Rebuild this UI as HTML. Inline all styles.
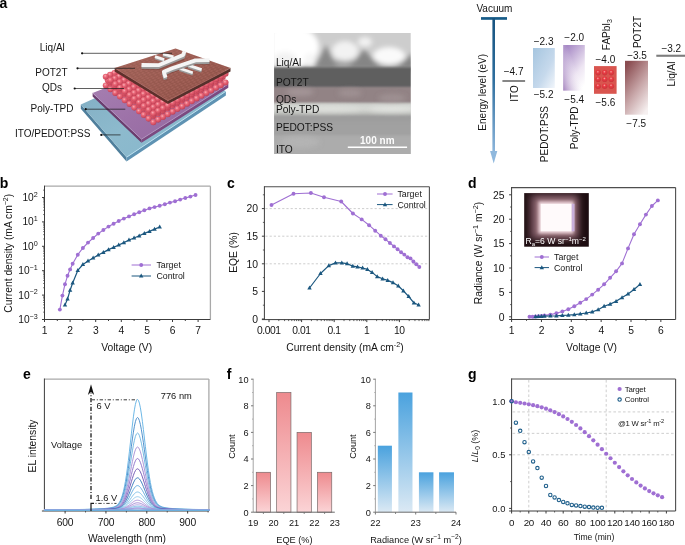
<!DOCTYPE html><html><head><meta charset="utf-8"><style>html,body{margin:0;padding:0;background:#fff;}svg{display:block;will-change:transform;}text{font-family:"Liberation Sans", sans-serif;}</style></head><body>
<svg width="685" height="545" viewBox="0 0 685 545">
<rect width="685" height="545" fill="#fff"/>
<text x="-0.50" y="8.00" font-size="14" text-anchor="start" font-weight="bold" fill="#000" >a</text>
<text x="-0.20" y="187.60" font-size="14" text-anchor="start" font-weight="bold" fill="#000" >b</text>
<text x="227.00" y="187.80" font-size="14" text-anchor="start" font-weight="bold" fill="#000" >c</text>
<text x="468.00" y="188.20" font-size="14" text-anchor="start" font-weight="bold" fill="#000" >d</text>
<text x="23.00" y="379.00" font-size="14" text-anchor="start" font-weight="bold" fill="#000" >e</text>
<text x="226.80" y="378.60" font-size="14" text-anchor="start" font-weight="bold" fill="#000" >f</text>
<text x="468.10" y="379.00" font-size="14" text-anchor="start" font-weight="bold" fill="#000" >g</text>
<text x="64.80" y="51.40" font-size="10" text-anchor="end" font-weight="normal" fill="#151515" >Liq/Al</text>
<text x="67.50" y="75.80" font-size="10" text-anchor="end" font-weight="normal" fill="#151515" >POT2T</text>
<text x="62.00" y="91.40" font-size="10" text-anchor="end" font-weight="normal" fill="#151515" >QDs</text>
<text x="73.40" y="111.60" font-size="10" text-anchor="end" font-weight="normal" fill="#151515" >Poly-TPD</text>
<text x="90.40" y="136.90" font-size="10" text-anchor="end" font-weight="normal" fill="#151515" >ITO/PEDOT:PSS</text>
<defs>
<linearGradient id="bluetop" x1="0" y1="0" x2="1" y2="1"><stop offset="0" stop-color="#7eaac0"/><stop offset="0.5" stop-color="#8dbacd"/><stop offset="1" stop-color="#84b6cc"/></linearGradient>
<linearGradient id="purtop" x1="0" y1="0" x2="1" y2="1"><stop offset="0" stop-color="#a984b4"/><stop offset="0.5" stop-color="#9d72a8"/><stop offset="1" stop-color="#92669e"/></linearGradient>
<linearGradient id="browntop" x1="0" y1="0" x2="1" y2="1"><stop offset="0" stop-color="#a0645a"/><stop offset="0.6" stop-color="#94564c"/><stop offset="1" stop-color="#874c43"/></linearGradient>
<radialGradient id="qd" cx="0.4" cy="0.35" r="0.68"><stop offset="0" stop-color="#f9b0b8"/><stop offset="0.35" stop-color="#ea6a7a"/><stop offset="0.8" stop-color="#d04a5e"/><stop offset="1" stop-color="#b53c50"/></radialGradient>
</defs>
<polygon points="80.80,104.60 126.50,157.30 126.50,161.50 80.80,108.80" fill="#4f7f9c" />
<polygon points="126.50,157.30 225.90,91.30 225.90,95.50 126.50,161.50" fill="#5f93b3" />
<polygon points="80.80,104.60 126.50,157.30 225.90,91.30 175.00,62.00" fill="url(#bluetop)" />
<polyline points="126.5,157.3 225.9,91.3" stroke="#c2e6f4" stroke-width="0.8" fill="none"/>
<polygon points="92.60,93.00 141.50,139.20 141.50,142.80 92.60,96.60" fill="#6b3d6e" />
<polygon points="141.50,139.20 228.30,84.10 228.30,87.70 141.50,142.80" fill="#7b4a80" />
<polygon points="92.60,93.00 141.50,139.20 228.30,84.10 176.00,60.00" fill="url(#purtop)" />
<polyline points="92.6,93.0 141.5,139.2 228.3,84.1" stroke="#c6a2cc" stroke-width="0.6" fill="none"/>
<circle cx="208.8" cy="75.1" r="3.05" fill="url(#qd)"/>
<circle cx="206.1" cy="69.5" r="3.05" fill="url(#qd)"/>
<circle cx="208.8" cy="66.3" r="3.05" fill="url(#qd)"/>
<circle cx="204.2" cy="77.6" r="3.05" fill="url(#qd)"/>
<circle cx="214.4" cy="77.6" r="3.05" fill="url(#qd)"/>
<circle cx="203.8" cy="70.7" r="3.05" fill="url(#qd)"/>
<circle cx="211.6" cy="72.0" r="3.05" fill="url(#qd)"/>
<circle cx="204.2" cy="68.8" r="3.05" fill="url(#qd)"/>
<circle cx="214.4" cy="68.8" r="3.05" fill="url(#qd)"/>
<circle cx="199.5" cy="80.0" r="3.05" fill="url(#qd)"/>
<circle cx="209.7" cy="80.1" r="3.05" fill="url(#qd)"/>
<circle cx="220.0" cy="80.0" r="3.05" fill="url(#qd)"/>
<circle cx="199.1" cy="73.1" r="3.05" fill="url(#qd)"/>
<circle cx="209.3" cy="73.2" r="3.05" fill="url(#qd)"/>
<circle cx="217.2" cy="74.4" r="3.05" fill="url(#qd)"/>
<circle cx="199.5" cy="71.2" r="3.05" fill="url(#qd)"/>
<circle cx="209.7" cy="71.3" r="3.05" fill="url(#qd)"/>
<circle cx="220.0" cy="71.2" r="3.05" fill="url(#qd)"/>
<circle cx="194.9" cy="82.4" r="3.05" fill="url(#qd)"/>
<circle cx="205.0" cy="82.6" r="3.05" fill="url(#qd)"/>
<circle cx="215.2" cy="82.6" r="3.05" fill="url(#qd)"/>
<circle cx="225.5" cy="82.5" r="3.05" fill="url(#qd)"/>
<circle cx="194.5" cy="75.4" r="3.05" fill="url(#qd)"/>
<circle cx="204.6" cy="75.6" r="3.05" fill="url(#qd)"/>
<circle cx="214.8" cy="75.7" r="3.05" fill="url(#qd)"/>
<circle cx="222.7" cy="76.9" r="3.05" fill="url(#qd)"/>
<circle cx="194.9" cy="73.6" r="3.05" fill="url(#qd)"/>
<circle cx="205.0" cy="73.8" r="3.05" fill="url(#qd)"/>
<circle cx="215.2" cy="73.8" r="3.05" fill="url(#qd)"/>
<circle cx="225.5" cy="73.7" r="3.05" fill="url(#qd)"/>
<circle cx="190.2" cy="84.8" r="3.05" fill="url(#qd)"/>
<circle cx="200.3" cy="85.1" r="3.05" fill="url(#qd)"/>
<circle cx="210.4" cy="85.2" r="3.05" fill="url(#qd)"/>
<circle cx="220.7" cy="85.2" r="3.05" fill="url(#qd)"/>
<circle cx="189.9" cy="77.8" r="3.05" fill="url(#qd)"/>
<circle cx="199.9" cy="78.1" r="3.05" fill="url(#qd)"/>
<circle cx="210.1" cy="78.2" r="3.05" fill="url(#qd)"/>
<circle cx="220.3" cy="78.2" r="3.05" fill="url(#qd)"/>
<circle cx="190.2" cy="76.0" r="3.05" fill="url(#qd)"/>
<circle cx="200.3" cy="76.3" r="3.05" fill="url(#qd)"/>
<circle cx="210.4" cy="76.4" r="3.05" fill="url(#qd)"/>
<circle cx="220.7" cy="76.4" r="3.05" fill="url(#qd)"/>
<circle cx="118.6" cy="80.0" r="3.05" fill="url(#qd)"/>
<circle cx="185.6" cy="87.2" r="3.05" fill="url(#qd)"/>
<circle cx="195.6" cy="87.6" r="3.05" fill="url(#qd)"/>
<circle cx="205.7" cy="87.8" r="3.05" fill="url(#qd)"/>
<circle cx="215.9" cy="87.8" r="3.05" fill="url(#qd)"/>
<circle cx="120.8" cy="74.7" r="3.05" fill="url(#qd)"/>
<circle cx="185.3" cy="80.2" r="3.05" fill="url(#qd)"/>
<circle cx="195.2" cy="80.5" r="3.05" fill="url(#qd)"/>
<circle cx="205.3" cy="80.8" r="3.05" fill="url(#qd)"/>
<circle cx="215.5" cy="80.8" r="3.05" fill="url(#qd)"/>
<circle cx="118.6" cy="71.2" r="3.05" fill="url(#qd)"/>
<circle cx="185.6" cy="78.4" r="3.05" fill="url(#qd)"/>
<circle cx="195.6" cy="78.8" r="3.05" fill="url(#qd)"/>
<circle cx="205.7" cy="79.0" r="3.05" fill="url(#qd)"/>
<circle cx="215.9" cy="79.0" r="3.05" fill="url(#qd)"/>
<circle cx="114.4" cy="81.8" r="3.05" fill="url(#qd)"/>
<circle cx="123.6" cy="83.4" r="3.05" fill="url(#qd)"/>
<circle cx="180.9" cy="89.6" r="3.05" fill="url(#qd)"/>
<circle cx="190.9" cy="90.0" r="3.05" fill="url(#qd)"/>
<circle cx="200.9" cy="90.3" r="3.05" fill="url(#qd)"/>
<circle cx="211.1" cy="90.5" r="3.05" fill="url(#qd)"/>
<circle cx="116.5" cy="76.5" r="3.05" fill="url(#qd)"/>
<circle cx="123.2" cy="76.4" r="3.05" fill="url(#qd)"/>
<circle cx="180.6" cy="82.5" r="3.05" fill="url(#qd)"/>
<circle cx="190.6" cy="83.0" r="3.05" fill="url(#qd)"/>
<circle cx="200.6" cy="83.3" r="3.05" fill="url(#qd)"/>
<circle cx="210.8" cy="83.4" r="3.05" fill="url(#qd)"/>
<circle cx="114.4" cy="73.0" r="3.05" fill="url(#qd)"/>
<circle cx="123.6" cy="74.6" r="3.05" fill="url(#qd)"/>
<circle cx="180.9" cy="80.8" r="3.05" fill="url(#qd)"/>
<circle cx="190.9" cy="81.2" r="3.05" fill="url(#qd)"/>
<circle cx="200.9" cy="81.5" r="3.05" fill="url(#qd)"/>
<circle cx="211.1" cy="81.7" r="3.05" fill="url(#qd)"/>
<circle cx="110.1" cy="83.7" r="3.05" fill="url(#qd)"/>
<circle cx="119.2" cy="85.3" r="3.05" fill="url(#qd)"/>
<circle cx="128.5" cy="86.9" r="3.05" fill="url(#qd)"/>
<circle cx="176.3" cy="92.0" r="3.05" fill="url(#qd)"/>
<circle cx="186.2" cy="92.5" r="3.05" fill="url(#qd)"/>
<circle cx="196.2" cy="92.9" r="3.05" fill="url(#qd)"/>
<circle cx="206.2" cy="93.1" r="3.05" fill="url(#qd)"/>
<circle cx="112.2" cy="78.3" r="3.05" fill="url(#qd)"/>
<circle cx="118.9" cy="78.3" r="3.05" fill="url(#qd)"/>
<circle cx="128.2" cy="79.8" r="3.05" fill="url(#qd)"/>
<circle cx="176.0" cy="84.9" r="3.05" fill="url(#qd)"/>
<circle cx="185.9" cy="85.4" r="3.05" fill="url(#qd)"/>
<circle cx="195.9" cy="85.8" r="3.05" fill="url(#qd)"/>
<circle cx="206.0" cy="86.0" r="3.05" fill="url(#qd)"/>
<circle cx="110.1" cy="74.9" r="3.05" fill="url(#qd)"/>
<circle cx="119.2" cy="76.5" r="3.05" fill="url(#qd)"/>
<circle cx="128.5" cy="78.1" r="3.05" fill="url(#qd)"/>
<circle cx="176.3" cy="83.2" r="3.05" fill="url(#qd)"/>
<circle cx="186.2" cy="83.7" r="3.05" fill="url(#qd)"/>
<circle cx="196.2" cy="84.1" r="3.05" fill="url(#qd)"/>
<circle cx="206.2" cy="84.3" r="3.05" fill="url(#qd)"/>
<circle cx="105.8" cy="85.5" r="3.05" fill="url(#qd)"/>
<circle cx="114.9" cy="87.3" r="3.05" fill="url(#qd)"/>
<circle cx="124.1" cy="88.9" r="3.05" fill="url(#qd)"/>
<circle cx="133.4" cy="90.3" r="3.05" fill="url(#qd)"/>
<circle cx="171.6" cy="94.4" r="3.05" fill="url(#qd)"/>
<circle cx="181.5" cy="95.0" r="3.05" fill="url(#qd)"/>
<circle cx="191.4" cy="95.5" r="3.05" fill="url(#qd)"/>
<circle cx="201.4" cy="95.8" r="3.05" fill="url(#qd)"/>
<circle cx="107.9" cy="80.2" r="3.05" fill="url(#qd)"/>
<circle cx="114.6" cy="80.1" r="3.05" fill="url(#qd)"/>
<circle cx="123.8" cy="81.7" r="3.05" fill="url(#qd)"/>
<circle cx="133.1" cy="83.2" r="3.05" fill="url(#qd)"/>
<circle cx="171.4" cy="87.3" r="3.05" fill="url(#qd)"/>
<circle cx="181.2" cy="87.9" r="3.05" fill="url(#qd)"/>
<circle cx="191.1" cy="88.3" r="3.05" fill="url(#qd)"/>
<circle cx="201.2" cy="88.6" r="3.05" fill="url(#qd)"/>
<circle cx="105.8" cy="76.7" r="3.05" fill="url(#qd)"/>
<circle cx="114.9" cy="78.5" r="3.05" fill="url(#qd)"/>
<circle cx="124.1" cy="80.1" r="3.05" fill="url(#qd)"/>
<circle cx="133.4" cy="81.5" r="3.05" fill="url(#qd)"/>
<circle cx="171.6" cy="85.6" r="3.05" fill="url(#qd)"/>
<circle cx="181.5" cy="86.2" r="3.05" fill="url(#qd)"/>
<circle cx="191.4" cy="86.7" r="3.05" fill="url(#qd)"/>
<circle cx="201.4" cy="87.0" r="3.05" fill="url(#qd)"/>
<circle cx="110.5" cy="89.2" r="3.05" fill="url(#qd)"/>
<circle cx="119.7" cy="90.9" r="3.05" fill="url(#qd)"/>
<circle cx="128.9" cy="92.4" r="3.05" fill="url(#qd)"/>
<circle cx="138.3" cy="93.7" r="3.05" fill="url(#qd)"/>
<circle cx="167.0" cy="96.8" r="3.05" fill="url(#qd)"/>
<circle cx="176.7" cy="97.5" r="3.05" fill="url(#qd)"/>
<circle cx="186.6" cy="98.0" r="3.05" fill="url(#qd)"/>
<circle cx="196.6" cy="98.4" r="3.05" fill="url(#qd)"/>
<circle cx="110.3" cy="82.0" r="3.05" fill="url(#qd)"/>
<circle cx="119.5" cy="83.7" r="3.05" fill="url(#qd)"/>
<circle cx="128.7" cy="85.2" r="3.05" fill="url(#qd)"/>
<circle cx="138.1" cy="86.6" r="3.05" fill="url(#qd)"/>
<circle cx="166.7" cy="89.6" r="3.05" fill="url(#qd)"/>
<circle cx="176.5" cy="90.3" r="3.05" fill="url(#qd)"/>
<circle cx="186.4" cy="90.9" r="3.05" fill="url(#qd)"/>
<circle cx="196.4" cy="91.2" r="3.05" fill="url(#qd)"/>
<circle cx="110.5" cy="80.4" r="3.05" fill="url(#qd)"/>
<circle cx="119.7" cy="82.1" r="3.05" fill="url(#qd)"/>
<circle cx="128.9" cy="83.6" r="3.05" fill="url(#qd)"/>
<circle cx="138.3" cy="84.9" r="3.05" fill="url(#qd)"/>
<circle cx="167.0" cy="88.0" r="3.05" fill="url(#qd)"/>
<circle cx="176.7" cy="88.7" r="3.05" fill="url(#qd)"/>
<circle cx="186.6" cy="89.2" r="3.05" fill="url(#qd)"/>
<circle cx="196.6" cy="89.6" r="3.05" fill="url(#qd)"/>
<circle cx="115.3" cy="92.9" r="3.05" fill="url(#qd)"/>
<circle cx="124.5" cy="94.5" r="3.05" fill="url(#qd)"/>
<circle cx="133.8" cy="95.9" r="3.05" fill="url(#qd)"/>
<circle cx="143.2" cy="97.2" r="3.05" fill="url(#qd)"/>
<circle cx="162.3" cy="99.2" r="3.05" fill="url(#qd)"/>
<circle cx="172.0" cy="100.0" r="3.05" fill="url(#qd)"/>
<circle cx="181.9" cy="100.6" r="3.05" fill="url(#qd)"/>
<circle cx="191.8" cy="101.1" r="3.05" fill="url(#qd)"/>
<circle cx="115.1" cy="85.6" r="3.05" fill="url(#qd)"/>
<circle cx="124.3" cy="87.2" r="3.05" fill="url(#qd)"/>
<circle cx="133.6" cy="88.7" r="3.05" fill="url(#qd)"/>
<circle cx="143.0" cy="90.0" r="3.05" fill="url(#qd)"/>
<circle cx="162.1" cy="92.0" r="3.05" fill="url(#qd)"/>
<circle cx="171.8" cy="92.8" r="3.05" fill="url(#qd)"/>
<circle cx="181.7" cy="93.4" r="3.05" fill="url(#qd)"/>
<circle cx="191.6" cy="93.9" r="3.05" fill="url(#qd)"/>
<circle cx="115.3" cy="84.1" r="3.05" fill="url(#qd)"/>
<circle cx="124.5" cy="85.7" r="3.05" fill="url(#qd)"/>
<circle cx="133.8" cy="87.1" r="3.05" fill="url(#qd)"/>
<circle cx="143.2" cy="88.4" r="3.05" fill="url(#qd)"/>
<circle cx="162.3" cy="90.4" r="3.05" fill="url(#qd)"/>
<circle cx="172.0" cy="91.2" r="3.05" fill="url(#qd)"/>
<circle cx="181.9" cy="91.8" r="3.05" fill="url(#qd)"/>
<circle cx="191.8" cy="92.3" r="3.05" fill="url(#qd)"/>
<circle cx="120.0" cy="96.5" r="3.05" fill="url(#qd)"/>
<circle cx="129.3" cy="98.1" r="3.05" fill="url(#qd)"/>
<circle cx="138.6" cy="99.4" r="3.05" fill="url(#qd)"/>
<circle cx="148.1" cy="100.6" r="3.05" fill="url(#qd)"/>
<circle cx="157.7" cy="101.6" r="3.05" fill="url(#qd)"/>
<circle cx="167.3" cy="102.5" r="3.05" fill="url(#qd)"/>
<circle cx="177.1" cy="103.2" r="3.05" fill="url(#qd)"/>
<circle cx="187.0" cy="103.7" r="3.05" fill="url(#qd)"/>
<circle cx="119.9" cy="89.3" r="3.05" fill="url(#qd)"/>
<circle cx="129.1" cy="90.8" r="3.05" fill="url(#qd)"/>
<circle cx="138.5" cy="92.2" r="3.05" fill="url(#qd)"/>
<circle cx="147.9" cy="93.3" r="3.05" fill="url(#qd)"/>
<circle cx="157.5" cy="94.4" r="3.05" fill="url(#qd)"/>
<circle cx="167.2" cy="95.2" r="3.05" fill="url(#qd)"/>
<circle cx="176.9" cy="95.9" r="3.05" fill="url(#qd)"/>
<circle cx="186.8" cy="96.5" r="3.05" fill="url(#qd)"/>
<circle cx="120.0" cy="87.7" r="3.05" fill="url(#qd)"/>
<circle cx="129.3" cy="89.3" r="3.05" fill="url(#qd)"/>
<circle cx="138.6" cy="90.6" r="3.05" fill="url(#qd)"/>
<circle cx="148.1" cy="91.8" r="3.05" fill="url(#qd)"/>
<circle cx="157.7" cy="92.8" r="3.05" fill="url(#qd)"/>
<circle cx="167.3" cy="93.7" r="3.05" fill="url(#qd)"/>
<circle cx="177.1" cy="94.4" r="3.05" fill="url(#qd)"/>
<circle cx="187.0" cy="94.9" r="3.05" fill="url(#qd)"/>
<circle cx="124.8" cy="100.2" r="3.05" fill="url(#qd)"/>
<circle cx="134.1" cy="101.7" r="3.05" fill="url(#qd)"/>
<circle cx="143.5" cy="102.9" r="3.05" fill="url(#qd)"/>
<circle cx="153.0" cy="104.0" r="3.05" fill="url(#qd)"/>
<circle cx="162.6" cy="105.0" r="3.05" fill="url(#qd)"/>
<circle cx="172.3" cy="105.8" r="3.05" fill="url(#qd)"/>
<circle cx="182.2" cy="106.4" r="3.05" fill="url(#qd)"/>
<circle cx="124.7" cy="92.9" r="3.05" fill="url(#qd)"/>
<circle cx="134.0" cy="94.4" r="3.05" fill="url(#qd)"/>
<circle cx="143.4" cy="95.6" r="3.05" fill="url(#qd)"/>
<circle cx="152.9" cy="96.7" r="3.05" fill="url(#qd)"/>
<circle cx="162.5" cy="97.7" r="3.05" fill="url(#qd)"/>
<circle cx="172.2" cy="98.5" r="3.05" fill="url(#qd)"/>
<circle cx="182.0" cy="99.1" r="3.05" fill="url(#qd)"/>
<circle cx="124.8" cy="91.4" r="3.05" fill="url(#qd)"/>
<circle cx="134.1" cy="92.9" r="3.05" fill="url(#qd)"/>
<circle cx="143.5" cy="94.1" r="3.05" fill="url(#qd)"/>
<circle cx="153.0" cy="95.2" r="3.05" fill="url(#qd)"/>
<circle cx="162.6" cy="96.2" r="3.05" fill="url(#qd)"/>
<circle cx="172.3" cy="97.0" r="3.05" fill="url(#qd)"/>
<circle cx="182.2" cy="97.6" r="3.05" fill="url(#qd)"/>
<circle cx="129.6" cy="103.9" r="3.05" fill="url(#qd)"/>
<circle cx="138.9" cy="105.3" r="3.05" fill="url(#qd)"/>
<circle cx="148.4" cy="106.4" r="3.05" fill="url(#qd)"/>
<circle cx="157.9" cy="107.5" r="3.05" fill="url(#qd)"/>
<circle cx="167.6" cy="108.3" r="3.05" fill="url(#qd)"/>
<circle cx="177.4" cy="109.0" r="3.05" fill="url(#qd)"/>
<circle cx="129.4" cy="96.6" r="3.05" fill="url(#qd)"/>
<circle cx="138.8" cy="97.9" r="3.05" fill="url(#qd)"/>
<circle cx="148.2" cy="99.1" r="3.05" fill="url(#qd)"/>
<circle cx="157.8" cy="100.1" r="3.05" fill="url(#qd)"/>
<circle cx="167.5" cy="101.0" r="3.05" fill="url(#qd)"/>
<circle cx="177.3" cy="101.7" r="3.05" fill="url(#qd)"/>
<circle cx="129.6" cy="95.1" r="3.05" fill="url(#qd)"/>
<circle cx="138.9" cy="96.5" r="3.05" fill="url(#qd)"/>
<circle cx="148.4" cy="97.6" r="3.05" fill="url(#qd)"/>
<circle cx="157.9" cy="98.7" r="3.05" fill="url(#qd)"/>
<circle cx="167.6" cy="99.5" r="3.05" fill="url(#qd)"/>
<circle cx="177.4" cy="100.2" r="3.05" fill="url(#qd)"/>
<circle cx="134.3" cy="107.6" r="3.05" fill="url(#qd)"/>
<circle cx="143.7" cy="108.9" r="3.05" fill="url(#qd)"/>
<circle cx="153.2" cy="110.0" r="3.05" fill="url(#qd)"/>
<circle cx="162.8" cy="110.9" r="3.05" fill="url(#qd)"/>
<circle cx="172.6" cy="111.7" r="3.05" fill="url(#qd)"/>
<circle cx="134.2" cy="100.2" r="3.05" fill="url(#qd)"/>
<circle cx="143.6" cy="101.5" r="3.05" fill="url(#qd)"/>
<circle cx="153.1" cy="102.6" r="3.05" fill="url(#qd)"/>
<circle cx="162.7" cy="103.5" r="3.05" fill="url(#qd)"/>
<circle cx="172.5" cy="104.3" r="3.05" fill="url(#qd)"/>
<circle cx="134.3" cy="98.8" r="3.05" fill="url(#qd)"/>
<circle cx="143.7" cy="100.1" r="3.05" fill="url(#qd)"/>
<circle cx="153.2" cy="101.2" r="3.05" fill="url(#qd)"/>
<circle cx="162.8" cy="102.1" r="3.05" fill="url(#qd)"/>
<circle cx="172.6" cy="102.9" r="3.05" fill="url(#qd)"/>
<circle cx="139.1" cy="111.3" r="3.05" fill="url(#qd)"/>
<circle cx="148.5" cy="112.5" r="3.05" fill="url(#qd)"/>
<circle cx="158.1" cy="113.5" r="3.05" fill="url(#qd)"/>
<circle cx="167.7" cy="114.3" r="3.05" fill="url(#qd)"/>
<circle cx="139.0" cy="103.8" r="3.05" fill="url(#qd)"/>
<circle cx="148.4" cy="105.0" r="3.05" fill="url(#qd)"/>
<circle cx="158.0" cy="106.1" r="3.05" fill="url(#qd)"/>
<circle cx="167.7" cy="106.9" r="3.05" fill="url(#qd)"/>
<circle cx="139.1" cy="102.5" r="3.05" fill="url(#qd)"/>
<circle cx="148.5" cy="103.7" r="3.05" fill="url(#qd)"/>
<circle cx="158.1" cy="104.7" r="3.05" fill="url(#qd)"/>
<circle cx="167.7" cy="105.5" r="3.05" fill="url(#qd)"/>
<circle cx="143.8" cy="114.9" r="3.05" fill="url(#qd)"/>
<circle cx="153.3" cy="116.0" r="3.05" fill="url(#qd)"/>
<circle cx="162.9" cy="117.0" r="3.05" fill="url(#qd)"/>
<circle cx="143.8" cy="107.5" r="3.05" fill="url(#qd)"/>
<circle cx="153.3" cy="108.6" r="3.05" fill="url(#qd)"/>
<circle cx="162.9" cy="109.5" r="3.05" fill="url(#qd)"/>
<circle cx="143.8" cy="106.1" r="3.05" fill="url(#qd)"/>
<circle cx="153.3" cy="107.2" r="3.05" fill="url(#qd)"/>
<circle cx="162.9" cy="108.2" r="3.05" fill="url(#qd)"/>
<circle cx="148.6" cy="118.6" r="3.05" fill="url(#qd)"/>
<circle cx="158.1" cy="119.6" r="3.05" fill="url(#qd)"/>
<circle cx="148.5" cy="111.1" r="3.05" fill="url(#qd)"/>
<circle cx="158.1" cy="112.1" r="3.05" fill="url(#qd)"/>
<circle cx="148.6" cy="109.8" r="3.05" fill="url(#qd)"/>
<circle cx="158.1" cy="110.8" r="3.05" fill="url(#qd)"/>
<circle cx="153.3" cy="122.3" r="3.05" fill="url(#qd)"/>
<circle cx="153.3" cy="114.8" r="3.05" fill="url(#qd)"/>
<circle cx="153.3" cy="113.5" r="3.05" fill="url(#qd)"/>
<polygon points="114.70,68.10 167.90,100.70 167.90,104.00 114.70,71.40" fill="#5e302b" />
<polygon points="167.90,100.70 230.50,68.10 230.50,71.40 167.90,104.00" fill="#55302b" />
<polygon points="114.70,68.10 167.90,100.70 230.50,68.10 175.50,48.50" fill="url(#browntop)" />
<defs><radialGradient id="bdg"><stop offset="0" stop-color="#c27a72" stop-opacity="0.42"/><stop offset="1" stop-color="#c27a72" stop-opacity="0"/></radialGradient><pattern id="bdots" width="5.4" height="3.6" patternUnits="userSpaceOnUse" patternTransform="skewX(-30)"><circle cx="1.35" cy="0.9" r="1.9" fill="url(#bdg)"/><circle cx="4.05" cy="2.7" r="1.9" fill="url(#bdg)"/></pattern></defs>
<polygon points="114.70,68.10 167.90,100.70 230.50,68.10 175.50,48.50" fill="url(#bdots)" />
<polyline points="114.7,68.1 167.9,100.7 230.5,68.1" stroke="#b07a70" stroke-width="0.5" fill="none"/>
<g opacity="0.3">
<polyline points="142,68.5 159,68.7 184,58.5" stroke="#5a2a26" stroke-width="3" fill="none"/>
<polyline points="166,80.5 165,74 173,71 196,63.5 210,63.3" stroke="#5a2a26" stroke-width="3" fill="none"/>
</g>
<polyline points="155.0,58.0 164.2,61.0" stroke="#9b9b9b" stroke-width="2.8" fill="none" stroke-linejoin="round" stroke-linecap="butt"/>
<polyline points="155.0,56.6 164.2,59.6" stroke="#f4f4f4" stroke-width="2.8" fill="none" stroke-linejoin="round" stroke-linecap="butt"/>
<polyline points="163.0,55.4 173.5,58.3" stroke="#9b9b9b" stroke-width="2.8" fill="none" stroke-linejoin="round" stroke-linecap="butt"/>
<polyline points="163.0,54.0 173.5,56.9" stroke="#f4f4f4" stroke-width="2.8" fill="none" stroke-linejoin="round" stroke-linecap="butt"/>
<polyline points="141.5,66.9 158.5,67.1 183.0,56.9 184.6,53.1" stroke="#9b9b9b" stroke-width="3.8" fill="none" stroke-linejoin="round" stroke-linecap="butt"/>
<polyline points="141.5,65.0 158.5,65.2 183.0,55.0 184.6,51.2" stroke="#f4f4f4" stroke-width="3.8" fill="none" stroke-linejoin="round" stroke-linecap="butt"/>
<polyline points="179.5,69.7 192.8,74.3" stroke="#9b9b9b" stroke-width="2.8" fill="none" stroke-linejoin="round" stroke-linecap="butt"/>
<polyline points="179.5,68.2 192.8,72.8" stroke="#f4f4f4" stroke-width="2.8" fill="none" stroke-linejoin="round" stroke-linecap="butt"/>
<polyline points="188.1,66.6 201.6,71.1" stroke="#9b9b9b" stroke-width="2.8" fill="none" stroke-linejoin="round" stroke-linecap="butt"/>
<polyline points="188.1,65.1 201.6,69.6" stroke="#f4f4f4" stroke-width="2.8" fill="none" stroke-linejoin="round" stroke-linecap="butt"/>
<polyline points="165.6,79.5 163.8,73.7 172.0,70.1 195.5,62.3 209.5,62.1" stroke="#9b9b9b" stroke-width="3.8" fill="none" stroke-linejoin="round" stroke-linecap="butt"/>
<polyline points="165.6,77.6 163.8,71.8 172.0,68.2 195.5,60.4 209.5,60.2" stroke="#f4f4f4" stroke-width="3.8" fill="none" stroke-linejoin="round" stroke-linecap="butt"/>
<line x1="82.10" y1="53.30" x2="172.00" y2="53.30" stroke="#1a1a1a" stroke-width="0.7" />
<circle cx="82.1" cy="53.3" r="1.1" fill="#111"/>
<line x1="77.50" y1="68.30" x2="135.00" y2="68.30" stroke="#1a1a1a" stroke-width="0.7" />
<circle cx="77.5" cy="68.3" r="1.1" fill="#111"/>
<line x1="74.70" y1="88.50" x2="124.00" y2="88.50" stroke="#1a1a1a" stroke-width="0.7" />
<circle cx="74.7" cy="88.5" r="1.1" fill="#111"/>
<line x1="85.70" y1="109.20" x2="125.30" y2="109.20" stroke="#1a1a1a" stroke-width="0.7" />
<circle cx="85.7" cy="109.2" r="1.1" fill="#111"/>
<line x1="101.30" y1="134.90" x2="120.50" y2="134.90" stroke="#1a1a1a" stroke-width="0.7" />
<circle cx="101.3" cy="134.9" r="1.1" fill="#111"/>
<defs>
<filter id="tb3" x="-30%" y="-30%" width="160%" height="160%"><feGaussianBlur stdDeviation="2.7"/></filter>
<filter id="tb1" x="-10%" y="-30%" width="120%" height="160%"><feGaussianBlur stdDeviation="0.9"/></filter>
<clipPath id="temclip"><rect x="274.1" y="33" width="136.6" height="120.9"/></clipPath>
<linearGradient id="tpd" x1="0" y1="0" x2="0" y2="1"><stop offset="0" stop-color="#cbcdc9"/><stop offset="0.45" stop-color="#d8dad6"/><stop offset="1" stop-color="#bbbdb9"/></linearGradient>
</defs>
<g clip-path="url(#temclip)">
<rect x="274" y="33" width="137" height="121" fill="#cdcdcd"/>
<g filter="url(#tb3)">
<rect x="300" y="60" width="115" height="10" fill="#a2a2a2"/>
<polygon points="314,69 326,45 338,69" fill="#878787"/>
<polygon points="348,69 364,49 382,69" fill="#858585"/>
<polygon points="396,69 412,53 416,69" fill="#848484"/>
<ellipse cx="290" cy="47" rx="29" ry="22" fill="#ffffff"/>
<ellipse cx="285" cy="60" rx="12" ry="8" fill="#f2f2f2"/>
<ellipse cx="310" cy="60" rx="6" ry="7" fill="#f6f6f6"/>
<ellipse cx="345" cy="51" rx="13" ry="10" fill="#f2f2f2"/>
<ellipse cx="365" cy="42" rx="7" ry="5" fill="#f2f2f2"/>
<ellipse cx="389" cy="56" rx="16" ry="9" fill="#fafafa"/>
</g>
<g filter="url(#tb1)">
<rect x="270" y="67.3" width="145" height="20" fill="#5f5f5f"/>
<rect x="270" y="87.2" width="145" height="16" fill="#928385"/>
<rect x="270" y="103" width="145" height="12.4" fill="url(#tpd)"/>
<rect x="270" y="115.4" width="145" height="20.5" fill="#a1a1a1"/>
<rect x="270" y="135.9" width="145" height="20" fill="#acacac"/>
</g>
<g filter="url(#tb3)" opacity="0.8">
<ellipse cx="300" cy="92" rx="14" ry="4" fill="#a89a9c"/>
<ellipse cx="350" cy="93" rx="12" ry="4" fill="#a29496"/>
<ellipse cx="392" cy="98" rx="14" ry="4" fill="#a29496"/>
<ellipse cx="330" cy="109" rx="30" ry="3" fill="#e0e2de"/>
<ellipse cx="392" cy="109" rx="22" ry="3" fill="#e4e6e2"/>
<rect x="270" y="115.5" width="145" height="4" fill="#979797"/>
<ellipse cx="300" cy="142" rx="20" ry="6" fill="#b6b6b6"/>
</g>
</g>
<text x="275.90" y="66.10" font-size="10.2" text-anchor="start" font-weight="normal" fill="#161616" >Liq/Al</text>
<text x="275.90" y="85.90" font-size="10.2" text-anchor="start" font-weight="normal" fill="#161616" >POT2T</text>
<text x="275.90" y="103.00" font-size="10.2" text-anchor="start" font-weight="normal" fill="#161616" >QDs</text>
<text x="275.90" y="113.00" font-size="10.2" text-anchor="start" font-weight="normal" fill="#161616" >Poly-TPD</text>
<text x="275.90" y="131.00" font-size="10.2" text-anchor="start" font-weight="normal" fill="#161616" >PEDOT:PSS</text>
<text x="275.90" y="152.80" font-size="10.2" text-anchor="start" font-weight="normal" fill="#161616" >ITO</text>
<line x1="347.80" y1="147.20" x2="407.10" y2="147.20" stroke="#fff" stroke-width="1.6" />
<text x="377.30" y="143.50" font-size="10" text-anchor="middle" font-weight="bold" fill="#fcfcfc" >100 nm</text>
<defs>
<linearGradient id="arrowg" x1="0" y1="0" x2="0" y2="1"><stop offset="0" stop-color="#17537f"/><stop offset="0.45" stop-color="#2e6e9e"/><stop offset="1" stop-color="#8db6dc"/></linearGradient>
<linearGradient id="pedot" x1="0" y1="0" x2="1" y2="1"><stop offset="0" stop-color="#a5c5df"/><stop offset="0.6" stop-color="#c6d9ec"/><stop offset="1" stop-color="#f2f6fb"/></linearGradient>
<linearGradient id="ptpd" x1="0.2" y1="0" x2="0.8" y2="1"><stop offset="0" stop-color="#a587c4"/><stop offset="0.65" stop-color="#eee6f3"/><stop offset="1" stop-color="#fff"/></linearGradient>
<linearGradient id="ptpd2" x1="0" y1="1" x2="0.6" y2="0.5"><stop offset="0" stop-color="#9c78b8" stop-opacity="0.9"/><stop offset="1" stop-color="#fff" stop-opacity="0"/></linearGradient>
<linearGradient id="pot2t" x1="0.2" y1="0" x2="0.8" y2="1"><stop offset="0" stop-color="#8a4c50"/><stop offset="0.55" stop-color="#c9a8aa"/><stop offset="1" stop-color="#f6f0f0"/></linearGradient>
<radialGradient id="redball" cx="0.45" cy="0.35" r="0.65"><stop offset="0" stop-color="#f6a8a6"/><stop offset="0.35" stop-color="#ea3c44"/><stop offset="1" stop-color="#c8343a"/></radialGradient>
</defs>
<text x="494.40" y="12.00" font-size="10" text-anchor="middle" font-weight="normal" fill="#151515" >Vacuum</text>
<rect x="481" y="17.1" width="26" height="2.7" fill="#175b88"/>
<rect x="492.4" y="18" width="2.6" height="135" fill="url(#arrowg)"/>
<path d="M490.1,151 L497.3,151 L493.7,163.4 Z" fill="#8fb8dd"/>
<text transform="translate(485.8,92.3) rotate(-90)" font-size="10" text-anchor="middle" fill="#151515">Energy level (eV)</text>
<rect x="502.4" y="80.05" width="22.7" height="1.9" fill="#808080"/>
<text x="513.60" y="75.10" font-size="10" text-anchor="middle" font-weight="normal" fill="#151515" >−4.7</text>
<text transform="translate(517.9,93.5) rotate(-90)" font-size="10" text-anchor="middle" fill="#151515">ITO</text>
<rect x="533" y="48" width="21.8" height="40" fill="url(#pedot)"/>
<text x="543.60" y="45.20" font-size="10" text-anchor="middle" font-weight="normal" fill="#151515" >−2.3</text>
<text x="543.60" y="97.60" font-size="10" text-anchor="middle" font-weight="normal" fill="#151515" >−5.2</text>
<text transform="translate(548,134.1) rotate(-90)" font-size="10" text-anchor="middle" fill="#151515">PEDOT:PSS</text>
<rect x="563.2" y="45" width="21.6" height="45.6" fill="url(#ptpd)"/>
<rect x="563.2" y="45" width="21.6" height="45.6" fill="url(#ptpd2)"/>
<text x="574.20" y="41.40" font-size="10" text-anchor="middle" font-weight="normal" fill="#151515" >−2.0</text>
<text x="574.20" y="103.20" font-size="10" text-anchor="middle" font-weight="normal" fill="#151515" >−5.4</text>
<text transform="translate(577.8,127.8) rotate(-90)" font-size="10" text-anchor="middle" fill="#151515">Poly-TPD</text>
<rect x="594" y="66.1" width="22.6" height="27.7" fill="#d9554f"/>
<circle cx="598.1" cy="72.6" r="2.8" fill="url(#redball)"/>
<circle cx="604.7" cy="72.6" r="2.8" fill="url(#redball)"/>
<circle cx="611.3" cy="72.6" r="2.8" fill="url(#redball)"/>
<circle cx="598.1" cy="79.3" r="2.8" fill="url(#redball)"/>
<circle cx="604.7" cy="79.3" r="2.8" fill="url(#redball)"/>
<circle cx="611.3" cy="79.3" r="2.8" fill="url(#redball)"/>
<circle cx="598.1" cy="86.2" r="2.8" fill="url(#redball)"/>
<circle cx="604.7" cy="86.2" r="2.8" fill="url(#redball)"/>
<circle cx="611.3" cy="86.2" r="2.8" fill="url(#redball)"/>
<text x="605.40" y="63.00" font-size="10" text-anchor="middle" font-weight="normal" fill="#151515" >−4.0</text>
<text x="605.40" y="105.80" font-size="10" text-anchor="middle" font-weight="normal" fill="#151515" >−5.6</text>
<text transform="translate(609.6,34.6) rotate(-90)" font-size="10" text-anchor="middle" fill="#151515">FAPbI<tspan font-size="7" dy="2.2">3</tspan></text>
<rect x="625" y="60.8" width="23" height="53.9" fill="url(#pot2t)"/>
<text x="637.00" y="59.20" font-size="10" text-anchor="middle" font-weight="normal" fill="#151515" >−3.5</text>
<text x="636.20" y="127.10" font-size="10" text-anchor="middle" font-weight="normal" fill="#151515" >−7.5</text>
<text transform="translate(640.5,32) rotate(-90)" font-size="10" text-anchor="middle" fill="#151515">POT2T</text>
<rect x="656.3" y="54.7" width="30" height="2.1" fill="#7d7d7d"/>
<text x="671.30" y="51.60" font-size="10" text-anchor="middle" font-weight="normal" fill="#151515" >−3.2</text>
<text transform="translate(675,74) rotate(-90)" font-size="10" text-anchor="middle" fill="#151515">Liq/Al</text>
<line x1="44.50" y1="186.20" x2="210.40" y2="186.20" stroke="#a9a9a9" stroke-width="1.3" />
<line x1="210.40" y1="186.20" x2="210.40" y2="319.50" stroke="#a9a9a9" stroke-width="1.3" />
<line x1="44.50" y1="185.60" x2="44.50" y2="319.50" stroke="#3c3c3c" stroke-width="1" />
<line x1="42.00" y1="319.50" x2="210.40" y2="319.50" stroke="#3c3c3c" stroke-width="1" />
<line x1="44.50" y1="319.50" x2="44.50" y2="322.00" stroke="#3c3c3c" stroke-width="1" />
<text x="44.50" y="334.40" font-size="10.3" text-anchor="middle" font-weight="normal" fill="#151515" letter-spacing="-0.2">1</text>
<line x1="70.10" y1="319.50" x2="70.10" y2="322.00" stroke="#3c3c3c" stroke-width="1" />
<text x="70.10" y="334.40" font-size="10.3" text-anchor="middle" font-weight="normal" fill="#151515" letter-spacing="-0.2">2</text>
<line x1="95.70" y1="319.50" x2="95.70" y2="322.00" stroke="#3c3c3c" stroke-width="1" />
<text x="95.70" y="334.40" font-size="10.3" text-anchor="middle" font-weight="normal" fill="#151515" letter-spacing="-0.2">3</text>
<line x1="121.30" y1="319.50" x2="121.30" y2="322.00" stroke="#3c3c3c" stroke-width="1" />
<text x="121.30" y="334.40" font-size="10.3" text-anchor="middle" font-weight="normal" fill="#151515" letter-spacing="-0.2">4</text>
<line x1="146.90" y1="319.50" x2="146.90" y2="322.00" stroke="#3c3c3c" stroke-width="1" />
<text x="146.90" y="334.40" font-size="10.3" text-anchor="middle" font-weight="normal" fill="#151515" letter-spacing="-0.2">5</text>
<line x1="172.50" y1="319.50" x2="172.50" y2="322.00" stroke="#3c3c3c" stroke-width="1" />
<text x="172.50" y="334.40" font-size="10.3" text-anchor="middle" font-weight="normal" fill="#151515" letter-spacing="-0.2">6</text>
<line x1="198.10" y1="319.50" x2="198.10" y2="322.00" stroke="#3c3c3c" stroke-width="1" />
<text x="198.10" y="334.40" font-size="10.3" text-anchor="middle" font-weight="normal" fill="#151515" letter-spacing="-0.2">7</text>
<line x1="57.30" y1="319.50" x2="57.30" y2="321.00" stroke="#3c3c3c" stroke-width="1" />
<line x1="82.90" y1="319.50" x2="82.90" y2="321.00" stroke="#3c3c3c" stroke-width="1" />
<line x1="108.50" y1="319.50" x2="108.50" y2="321.00" stroke="#3c3c3c" stroke-width="1" />
<line x1="134.10" y1="319.50" x2="134.10" y2="321.00" stroke="#3c3c3c" stroke-width="1" />
<line x1="159.70" y1="319.50" x2="159.70" y2="321.00" stroke="#3c3c3c" stroke-width="1" />
<line x1="185.30" y1="319.50" x2="185.30" y2="321.00" stroke="#3c3c3c" stroke-width="1" />
<line x1="42.00" y1="319.50" x2="44.50" y2="319.50" stroke="#3c3c3c" stroke-width="1" />
<text x="37.8" y="322.90" font-size="10.2" text-anchor="end" fill="#151515">10<tspan font-size="7.2" dy="-4.2">−3</tspan></text>
<line x1="43.20" y1="312.15" x2="44.50" y2="312.15" stroke="#3c3c3c" stroke-width="0.8" />
<line x1="43.20" y1="307.86" x2="44.50" y2="307.86" stroke="#3c3c3c" stroke-width="0.8" />
<line x1="43.20" y1="304.81" x2="44.50" y2="304.81" stroke="#3c3c3c" stroke-width="0.8" />
<line x1="43.20" y1="302.45" x2="44.50" y2="302.45" stroke="#3c3c3c" stroke-width="0.8" />
<line x1="43.20" y1="300.51" x2="44.50" y2="300.51" stroke="#3c3c3c" stroke-width="0.8" />
<line x1="43.20" y1="298.88" x2="44.50" y2="298.88" stroke="#3c3c3c" stroke-width="0.8" />
<line x1="43.20" y1="297.46" x2="44.50" y2="297.46" stroke="#3c3c3c" stroke-width="0.8" />
<line x1="43.20" y1="296.22" x2="44.50" y2="296.22" stroke="#3c3c3c" stroke-width="0.8" />
<line x1="42.00" y1="295.10" x2="44.50" y2="295.10" stroke="#3c3c3c" stroke-width="1" />
<text x="37.8" y="298.50" font-size="10.2" text-anchor="end" fill="#151515">10<tspan font-size="7.2" dy="-4.2">−2</tspan></text>
<line x1="43.20" y1="287.75" x2="44.50" y2="287.75" stroke="#3c3c3c" stroke-width="0.8" />
<line x1="43.20" y1="283.46" x2="44.50" y2="283.46" stroke="#3c3c3c" stroke-width="0.8" />
<line x1="43.20" y1="280.41" x2="44.50" y2="280.41" stroke="#3c3c3c" stroke-width="0.8" />
<line x1="43.20" y1="278.05" x2="44.50" y2="278.05" stroke="#3c3c3c" stroke-width="0.8" />
<line x1="43.20" y1="276.11" x2="44.50" y2="276.11" stroke="#3c3c3c" stroke-width="0.8" />
<line x1="43.20" y1="274.48" x2="44.50" y2="274.48" stroke="#3c3c3c" stroke-width="0.8" />
<line x1="43.20" y1="273.06" x2="44.50" y2="273.06" stroke="#3c3c3c" stroke-width="0.8" />
<line x1="43.20" y1="271.82" x2="44.50" y2="271.82" stroke="#3c3c3c" stroke-width="0.8" />
<line x1="42.00" y1="270.70" x2="44.50" y2="270.70" stroke="#3c3c3c" stroke-width="1" />
<text x="37.8" y="274.10" font-size="10.2" text-anchor="end" fill="#151515">10<tspan font-size="7.2" dy="-4.2">−1</tspan></text>
<line x1="43.20" y1="263.35" x2="44.50" y2="263.35" stroke="#3c3c3c" stroke-width="0.8" />
<line x1="43.20" y1="259.06" x2="44.50" y2="259.06" stroke="#3c3c3c" stroke-width="0.8" />
<line x1="43.20" y1="256.01" x2="44.50" y2="256.01" stroke="#3c3c3c" stroke-width="0.8" />
<line x1="43.20" y1="253.65" x2="44.50" y2="253.65" stroke="#3c3c3c" stroke-width="0.8" />
<line x1="43.20" y1="251.71" x2="44.50" y2="251.71" stroke="#3c3c3c" stroke-width="0.8" />
<line x1="43.20" y1="250.08" x2="44.50" y2="250.08" stroke="#3c3c3c" stroke-width="0.8" />
<line x1="43.20" y1="248.66" x2="44.50" y2="248.66" stroke="#3c3c3c" stroke-width="0.8" />
<line x1="43.20" y1="247.42" x2="44.50" y2="247.42" stroke="#3c3c3c" stroke-width="0.8" />
<line x1="42.00" y1="246.30" x2="44.50" y2="246.30" stroke="#3c3c3c" stroke-width="1" />
<text x="37.8" y="249.70" font-size="10.2" text-anchor="end" fill="#151515">10<tspan font-size="7.2" dy="-4.2">0</tspan></text>
<line x1="43.20" y1="238.95" x2="44.50" y2="238.95" stroke="#3c3c3c" stroke-width="0.8" />
<line x1="43.20" y1="234.66" x2="44.50" y2="234.66" stroke="#3c3c3c" stroke-width="0.8" />
<line x1="43.20" y1="231.61" x2="44.50" y2="231.61" stroke="#3c3c3c" stroke-width="0.8" />
<line x1="43.20" y1="229.25" x2="44.50" y2="229.25" stroke="#3c3c3c" stroke-width="0.8" />
<line x1="43.20" y1="227.31" x2="44.50" y2="227.31" stroke="#3c3c3c" stroke-width="0.8" />
<line x1="43.20" y1="225.68" x2="44.50" y2="225.68" stroke="#3c3c3c" stroke-width="0.8" />
<line x1="43.20" y1="224.26" x2="44.50" y2="224.26" stroke="#3c3c3c" stroke-width="0.8" />
<line x1="43.20" y1="223.02" x2="44.50" y2="223.02" stroke="#3c3c3c" stroke-width="0.8" />
<line x1="42.00" y1="221.90" x2="44.50" y2="221.90" stroke="#3c3c3c" stroke-width="1" />
<text x="37.8" y="225.30" font-size="10.2" text-anchor="end" fill="#151515">10<tspan font-size="7.2" dy="-4.2">1</tspan></text>
<line x1="43.20" y1="214.55" x2="44.50" y2="214.55" stroke="#3c3c3c" stroke-width="0.8" />
<line x1="43.20" y1="210.26" x2="44.50" y2="210.26" stroke="#3c3c3c" stroke-width="0.8" />
<line x1="43.20" y1="207.21" x2="44.50" y2="207.21" stroke="#3c3c3c" stroke-width="0.8" />
<line x1="43.20" y1="204.85" x2="44.50" y2="204.85" stroke="#3c3c3c" stroke-width="0.8" />
<line x1="43.20" y1="202.91" x2="44.50" y2="202.91" stroke="#3c3c3c" stroke-width="0.8" />
<line x1="43.20" y1="201.28" x2="44.50" y2="201.28" stroke="#3c3c3c" stroke-width="0.8" />
<line x1="43.20" y1="199.86" x2="44.50" y2="199.86" stroke="#3c3c3c" stroke-width="0.8" />
<line x1="43.20" y1="198.62" x2="44.50" y2="198.62" stroke="#3c3c3c" stroke-width="0.8" />
<line x1="42.00" y1="197.50" x2="44.50" y2="197.50" stroke="#3c3c3c" stroke-width="1" />
<text x="37.8" y="200.90" font-size="10.2" text-anchor="end" fill="#151515">10<tspan font-size="7.2" dy="-4.2">2</tspan></text>
<line x1="43.20" y1="190.15" x2="44.50" y2="190.15" stroke="#3c3c3c" stroke-width="0.8" />
<text x="126.70" y="351.20" font-size="10.3" text-anchor="middle" font-weight="normal" fill="#151515" >Voltage (V)</text>
<text transform="translate(11.6,253.3) rotate(-90)" font-size="10.3" text-anchor="middle" fill="#151515">Current density (mA cm<tspan font-size="7" dy="-3.5">−2</tspan><tspan dy="3.5">)</tspan></text>
<polyline points="59.86,309.60 62.42,295.60 64.98,284.20 67.54,275.80 70.10,269.40 72.66,263.80 77.78,254.70 82.90,248.00 88.02,242.60 93.14,238.00 98.26,233.60 103.38,230.00 108.50,226.60 113.62,223.80 118.74,221.00 123.86,218.60 128.98,216.40 134.10,214.20 139.22,212.20 144.34,210.20 149.46,208.40 154.58,207.10 159.70,205.70 164.82,204.20 169.94,202.60 175.06,201.20 180.18,199.60 185.30,198.00 190.42,196.60 195.54,195.00" fill="none" stroke="#9f6fd3" stroke-width="1.1" stroke-linejoin="round" />
<circle cx="59.86" cy="309.60" r="1.95" fill="#9f6fd3" stroke="none" stroke-width="0"/>
<circle cx="62.42" cy="295.60" r="1.95" fill="#9f6fd3" stroke="none" stroke-width="0"/>
<circle cx="64.98" cy="284.20" r="1.95" fill="#9f6fd3" stroke="none" stroke-width="0"/>
<circle cx="67.54" cy="275.80" r="1.95" fill="#9f6fd3" stroke="none" stroke-width="0"/>
<circle cx="70.10" cy="269.40" r="1.95" fill="#9f6fd3" stroke="none" stroke-width="0"/>
<circle cx="72.66" cy="263.80" r="1.95" fill="#9f6fd3" stroke="none" stroke-width="0"/>
<circle cx="77.78" cy="254.70" r="1.95" fill="#9f6fd3" stroke="none" stroke-width="0"/>
<circle cx="82.90" cy="248.00" r="1.95" fill="#9f6fd3" stroke="none" stroke-width="0"/>
<circle cx="88.02" cy="242.60" r="1.95" fill="#9f6fd3" stroke="none" stroke-width="0"/>
<circle cx="93.14" cy="238.00" r="1.95" fill="#9f6fd3" stroke="none" stroke-width="0"/>
<circle cx="98.26" cy="233.60" r="1.95" fill="#9f6fd3" stroke="none" stroke-width="0"/>
<circle cx="103.38" cy="230.00" r="1.95" fill="#9f6fd3" stroke="none" stroke-width="0"/>
<circle cx="108.50" cy="226.60" r="1.95" fill="#9f6fd3" stroke="none" stroke-width="0"/>
<circle cx="113.62" cy="223.80" r="1.95" fill="#9f6fd3" stroke="none" stroke-width="0"/>
<circle cx="118.74" cy="221.00" r="1.95" fill="#9f6fd3" stroke="none" stroke-width="0"/>
<circle cx="123.86" cy="218.60" r="1.95" fill="#9f6fd3" stroke="none" stroke-width="0"/>
<circle cx="128.98" cy="216.40" r="1.95" fill="#9f6fd3" stroke="none" stroke-width="0"/>
<circle cx="134.10" cy="214.20" r="1.95" fill="#9f6fd3" stroke="none" stroke-width="0"/>
<circle cx="139.22" cy="212.20" r="1.95" fill="#9f6fd3" stroke="none" stroke-width="0"/>
<circle cx="144.34" cy="210.20" r="1.95" fill="#9f6fd3" stroke="none" stroke-width="0"/>
<circle cx="149.46" cy="208.40" r="1.95" fill="#9f6fd3" stroke="none" stroke-width="0"/>
<circle cx="154.58" cy="207.10" r="1.95" fill="#9f6fd3" stroke="none" stroke-width="0"/>
<circle cx="159.70" cy="205.70" r="1.95" fill="#9f6fd3" stroke="none" stroke-width="0"/>
<circle cx="164.82" cy="204.20" r="1.95" fill="#9f6fd3" stroke="none" stroke-width="0"/>
<circle cx="169.94" cy="202.60" r="1.95" fill="#9f6fd3" stroke="none" stroke-width="0"/>
<circle cx="175.06" cy="201.20" r="1.95" fill="#9f6fd3" stroke="none" stroke-width="0"/>
<circle cx="180.18" cy="199.60" r="1.95" fill="#9f6fd3" stroke="none" stroke-width="0"/>
<circle cx="185.30" cy="198.00" r="1.95" fill="#9f6fd3" stroke="none" stroke-width="0"/>
<circle cx="190.42" cy="196.60" r="1.95" fill="#9f6fd3" stroke="none" stroke-width="0"/>
<circle cx="195.54" cy="195.00" r="1.95" fill="#9f6fd3" stroke="none" stroke-width="0"/>
<polyline points="64.98,305.00 67.54,299.00 70.10,290.20 72.66,283.00 77.78,270.40 82.90,264.50 88.02,261.00 93.14,258.00 98.26,255.00 103.38,252.40 108.50,249.60 113.62,247.40 118.74,245.00 123.86,242.60 128.98,240.00 134.10,238.00 139.22,235.80 144.34,233.40 149.46,231.40 154.58,229.10 159.70,227.00" fill="none" stroke="#1b577f" stroke-width="1.2" stroke-linejoin="round" />
<polygon points="64.98,302.62 67.18,306.58 62.78,306.58" fill="#1b577f"/>
<polygon points="67.54,296.62 69.74,300.58 65.34,300.58" fill="#1b577f"/>
<polygon points="70.10,287.82 72.30,291.78 67.90,291.78" fill="#1b577f"/>
<polygon points="72.66,280.62 74.86,284.58 70.46,284.58" fill="#1b577f"/>
<polygon points="77.78,268.02 79.98,271.98 75.58,271.98" fill="#1b577f"/>
<polygon points="82.90,262.12 85.10,266.08 80.70,266.08" fill="#1b577f"/>
<polygon points="88.02,258.62 90.22,262.58 85.82,262.58" fill="#1b577f"/>
<polygon points="93.14,255.62 95.34,259.58 90.94,259.58" fill="#1b577f"/>
<polygon points="98.26,252.62 100.46,256.58 96.06,256.58" fill="#1b577f"/>
<polygon points="103.38,250.02 105.58,253.98 101.18,253.98" fill="#1b577f"/>
<polygon points="108.50,247.22 110.70,251.18 106.30,251.18" fill="#1b577f"/>
<polygon points="113.62,245.02 115.82,248.98 111.42,248.98" fill="#1b577f"/>
<polygon points="118.74,242.62 120.94,246.58 116.54,246.58" fill="#1b577f"/>
<polygon points="123.86,240.22 126.06,244.18 121.66,244.18" fill="#1b577f"/>
<polygon points="128.98,237.62 131.18,241.58 126.78,241.58" fill="#1b577f"/>
<polygon points="134.10,235.62 136.30,239.58 131.90,239.58" fill="#1b577f"/>
<polygon points="139.22,233.42 141.42,237.38 137.02,237.38" fill="#1b577f"/>
<polygon points="144.34,231.02 146.54,234.98 142.14,234.98" fill="#1b577f"/>
<polygon points="149.46,229.02 151.66,232.98 147.26,232.98" fill="#1b577f"/>
<polygon points="154.58,226.72 156.78,230.68 152.38,230.68" fill="#1b577f"/>
<polygon points="159.70,224.62 161.90,228.58 157.50,228.58" fill="#1b577f"/>
<line x1="131.60" y1="265.00" x2="151.00" y2="265.00" stroke="#9f6fd3" stroke-width="1" />
<circle cx="141.20" cy="265.00" r="1.95" fill="#9f6fd3" stroke="none" stroke-width="0"/>
<text x="156.40" y="268.20" font-size="8.8" text-anchor="start" font-weight="normal" fill="#151515" >Target</text>
<line x1="131.60" y1="276.00" x2="151.00" y2="276.00" stroke="#1b577f" stroke-width="1" />
<polygon points="141.20,273.62 143.40,277.58 139.00,277.58" fill="#1b577f"/>
<text x="156.40" y="279.20" font-size="8.8" text-anchor="start" font-weight="normal" fill="#151515" >Control</text>
<line x1="265.40" y1="263.80" x2="428.40" y2="263.80" stroke="#c8c8c8" stroke-width="0.9" stroke-dasharray="2.2,2"/>
<line x1="265.40" y1="236.20" x2="428.40" y2="236.20" stroke="#c8c8c8" stroke-width="0.9" stroke-dasharray="2.2,2"/>
<line x1="265.40" y1="208.60" x2="428.40" y2="208.60" stroke="#c8c8c8" stroke-width="0.9" stroke-dasharray="2.2,2"/>
<line x1="264.40" y1="186.80" x2="429.40" y2="186.80" stroke="#4e4e4e" stroke-width="1.1" />
<line x1="429.40" y1="186.80" x2="429.40" y2="319.60" stroke="#4e4e4e" stroke-width="1.1" />
<line x1="264.40" y1="186.20" x2="264.40" y2="319.60" stroke="#3c3c3c" stroke-width="1" />
<line x1="261.90" y1="319.60" x2="429.40" y2="319.60" stroke="#3c3c3c" stroke-width="1" />
<line x1="261.90" y1="319.00" x2="264.40" y2="319.00" stroke="#3c3c3c" stroke-width="1" />
<text x="258.00" y="322.70" font-size="10.4" text-anchor="end" font-weight="normal" fill="#151515" >0</text>
<line x1="261.90" y1="291.40" x2="264.40" y2="291.40" stroke="#3c3c3c" stroke-width="1" />
<text x="258.00" y="295.10" font-size="10.4" text-anchor="end" font-weight="normal" fill="#151515" >5</text>
<line x1="261.90" y1="263.80" x2="264.40" y2="263.80" stroke="#3c3c3c" stroke-width="1" />
<text x="258.00" y="267.50" font-size="10.4" text-anchor="end" font-weight="normal" fill="#151515" >10</text>
<line x1="261.90" y1="236.20" x2="264.40" y2="236.20" stroke="#3c3c3c" stroke-width="1" />
<text x="258.00" y="239.90" font-size="10.4" text-anchor="end" font-weight="normal" fill="#151515" >15</text>
<line x1="261.90" y1="208.60" x2="264.40" y2="208.60" stroke="#3c3c3c" stroke-width="1" />
<text x="258.00" y="212.30" font-size="10.4" text-anchor="end" font-weight="normal" fill="#151515" >20</text>
<line x1="262.90" y1="305.20" x2="264.40" y2="305.20" stroke="#3c3c3c" stroke-width="0.8" />
<line x1="262.90" y1="277.60" x2="264.40" y2="277.60" stroke="#3c3c3c" stroke-width="0.8" />
<line x1="262.90" y1="250.00" x2="264.40" y2="250.00" stroke="#3c3c3c" stroke-width="0.8" />
<line x1="262.90" y1="222.40" x2="264.40" y2="222.40" stroke="#3c3c3c" stroke-width="0.8" />
<line x1="262.90" y1="194.80" x2="264.40" y2="194.80" stroke="#3c3c3c" stroke-width="0.8" />
<line x1="269.00" y1="319.60" x2="269.00" y2="322.10" stroke="#3c3c3c" stroke-width="1" />
<text x="268.80" y="334.40" font-size="10.3" text-anchor="middle" font-weight="normal" fill="#151515" letter-spacing="-0.45">0.001</text>
<line x1="278.81" y1="319.60" x2="278.81" y2="321.10" stroke="#3c3c3c" stroke-width="0.8" />
<line x1="284.55" y1="319.60" x2="284.55" y2="321.10" stroke="#3c3c3c" stroke-width="0.8" />
<line x1="288.63" y1="319.60" x2="288.63" y2="321.10" stroke="#3c3c3c" stroke-width="0.8" />
<line x1="291.79" y1="319.60" x2="291.79" y2="321.10" stroke="#3c3c3c" stroke-width="0.8" />
<line x1="294.37" y1="319.60" x2="294.37" y2="321.10" stroke="#3c3c3c" stroke-width="0.8" />
<line x1="296.55" y1="319.60" x2="296.55" y2="321.10" stroke="#3c3c3c" stroke-width="0.8" />
<line x1="298.44" y1="319.60" x2="298.44" y2="321.10" stroke="#3c3c3c" stroke-width="0.8" />
<line x1="300.11" y1="319.60" x2="300.11" y2="321.10" stroke="#3c3c3c" stroke-width="0.8" />
<line x1="301.60" y1="319.60" x2="301.60" y2="322.10" stroke="#3c3c3c" stroke-width="1" />
<text x="301.40" y="334.40" font-size="10.3" text-anchor="middle" font-weight="normal" fill="#151515" letter-spacing="-0.45">0.01</text>
<line x1="311.41" y1="319.60" x2="311.41" y2="321.10" stroke="#3c3c3c" stroke-width="0.8" />
<line x1="317.15" y1="319.60" x2="317.15" y2="321.10" stroke="#3c3c3c" stroke-width="0.8" />
<line x1="321.23" y1="319.60" x2="321.23" y2="321.10" stroke="#3c3c3c" stroke-width="0.8" />
<line x1="324.39" y1="319.60" x2="324.39" y2="321.10" stroke="#3c3c3c" stroke-width="0.8" />
<line x1="326.97" y1="319.60" x2="326.97" y2="321.10" stroke="#3c3c3c" stroke-width="0.8" />
<line x1="329.15" y1="319.60" x2="329.15" y2="321.10" stroke="#3c3c3c" stroke-width="0.8" />
<line x1="331.04" y1="319.60" x2="331.04" y2="321.10" stroke="#3c3c3c" stroke-width="0.8" />
<line x1="332.71" y1="319.60" x2="332.71" y2="321.10" stroke="#3c3c3c" stroke-width="0.8" />
<line x1="334.20" y1="319.60" x2="334.20" y2="322.10" stroke="#3c3c3c" stroke-width="1" />
<text x="334.00" y="334.40" font-size="10.3" text-anchor="middle" font-weight="normal" fill="#151515" letter-spacing="-0.45">0.1</text>
<line x1="344.01" y1="319.60" x2="344.01" y2="321.10" stroke="#3c3c3c" stroke-width="0.8" />
<line x1="349.75" y1="319.60" x2="349.75" y2="321.10" stroke="#3c3c3c" stroke-width="0.8" />
<line x1="353.83" y1="319.60" x2="353.83" y2="321.10" stroke="#3c3c3c" stroke-width="0.8" />
<line x1="356.99" y1="319.60" x2="356.99" y2="321.10" stroke="#3c3c3c" stroke-width="0.8" />
<line x1="359.57" y1="319.60" x2="359.57" y2="321.10" stroke="#3c3c3c" stroke-width="0.8" />
<line x1="361.75" y1="319.60" x2="361.75" y2="321.10" stroke="#3c3c3c" stroke-width="0.8" />
<line x1="363.64" y1="319.60" x2="363.64" y2="321.10" stroke="#3c3c3c" stroke-width="0.8" />
<line x1="365.31" y1="319.60" x2="365.31" y2="321.10" stroke="#3c3c3c" stroke-width="0.8" />
<line x1="366.80" y1="319.60" x2="366.80" y2="322.10" stroke="#3c3c3c" stroke-width="1" />
<text x="366.60" y="334.40" font-size="10.3" text-anchor="middle" font-weight="normal" fill="#151515" letter-spacing="-0.45">1</text>
<line x1="376.61" y1="319.60" x2="376.61" y2="321.10" stroke="#3c3c3c" stroke-width="0.8" />
<line x1="382.35" y1="319.60" x2="382.35" y2="321.10" stroke="#3c3c3c" stroke-width="0.8" />
<line x1="386.43" y1="319.60" x2="386.43" y2="321.10" stroke="#3c3c3c" stroke-width="0.8" />
<line x1="389.59" y1="319.60" x2="389.59" y2="321.10" stroke="#3c3c3c" stroke-width="0.8" />
<line x1="392.17" y1="319.60" x2="392.17" y2="321.10" stroke="#3c3c3c" stroke-width="0.8" />
<line x1="394.35" y1="319.60" x2="394.35" y2="321.10" stroke="#3c3c3c" stroke-width="0.8" />
<line x1="396.24" y1="319.60" x2="396.24" y2="321.10" stroke="#3c3c3c" stroke-width="0.8" />
<line x1="397.91" y1="319.60" x2="397.91" y2="321.10" stroke="#3c3c3c" stroke-width="0.8" />
<line x1="399.40" y1="319.60" x2="399.40" y2="322.10" stroke="#3c3c3c" stroke-width="1" />
<text x="399.20" y="334.40" font-size="10.3" text-anchor="middle" font-weight="normal" fill="#151515" letter-spacing="-0.45">10</text>
<line x1="409.21" y1="319.60" x2="409.21" y2="321.10" stroke="#3c3c3c" stroke-width="0.8" />
<line x1="414.95" y1="319.60" x2="414.95" y2="321.10" stroke="#3c3c3c" stroke-width="0.8" />
<line x1="419.03" y1="319.60" x2="419.03" y2="321.10" stroke="#3c3c3c" stroke-width="0.8" />
<line x1="422.19" y1="319.60" x2="422.19" y2="321.10" stroke="#3c3c3c" stroke-width="0.8" />
<line x1="424.77" y1="319.60" x2="424.77" y2="321.10" stroke="#3c3c3c" stroke-width="0.8" />
<line x1="426.95" y1="319.60" x2="426.95" y2="321.10" stroke="#3c3c3c" stroke-width="0.8" />
<line x1="428.84" y1="319.60" x2="428.84" y2="321.10" stroke="#3c3c3c" stroke-width="0.8" />
<text x="345.00" y="350.50" font-size="10.3" text-anchor="middle" font-weight="normal" fill="#151515" >Current density (mA cm<tspan font-size="7.2" dy="-4">-2</tspan><tspan dy="4">)</tspan></text>
<text transform="translate(237.4,252.5) rotate(-90)" font-size="10.3" text-anchor="middle" fill="#151515">EQE (%)</text>
<polyline points="271.50,205.00 293.50,193.70 310.90,193.00 324.00,197.20 341.20,201.50 352.90,213.50 361.70,219.40 369.10,225.20 375.20,230.70 380.80,235.70 385.50,239.30 389.90,243.00 394.00,246.40 397.60,249.30 401.10,252.30 404.30,254.60 407.50,257.30 410.50,258.40 413.40,261.50 416.30,264.30 419.30,267.00" fill="none" stroke="#9f6fd3" stroke-width="1.1" stroke-linejoin="round" />
<circle cx="271.50" cy="205.00" r="1.95" fill="#9f6fd3" stroke="none" stroke-width="0"/>
<circle cx="293.50" cy="193.70" r="1.95" fill="#9f6fd3" stroke="none" stroke-width="0"/>
<circle cx="310.90" cy="193.00" r="1.95" fill="#9f6fd3" stroke="none" stroke-width="0"/>
<circle cx="324.00" cy="197.20" r="1.95" fill="#9f6fd3" stroke="none" stroke-width="0"/>
<circle cx="341.20" cy="201.50" r="1.95" fill="#9f6fd3" stroke="none" stroke-width="0"/>
<circle cx="352.90" cy="213.50" r="1.95" fill="#9f6fd3" stroke="none" stroke-width="0"/>
<circle cx="361.70" cy="219.40" r="1.95" fill="#9f6fd3" stroke="none" stroke-width="0"/>
<circle cx="369.10" cy="225.20" r="1.95" fill="#9f6fd3" stroke="none" stroke-width="0"/>
<circle cx="375.20" cy="230.70" r="1.95" fill="#9f6fd3" stroke="none" stroke-width="0"/>
<circle cx="380.80" cy="235.70" r="1.95" fill="#9f6fd3" stroke="none" stroke-width="0"/>
<circle cx="385.50" cy="239.30" r="1.95" fill="#9f6fd3" stroke="none" stroke-width="0"/>
<circle cx="389.90" cy="243.00" r="1.95" fill="#9f6fd3" stroke="none" stroke-width="0"/>
<circle cx="394.00" cy="246.40" r="1.95" fill="#9f6fd3" stroke="none" stroke-width="0"/>
<circle cx="397.60" cy="249.30" r="1.95" fill="#9f6fd3" stroke="none" stroke-width="0"/>
<circle cx="401.10" cy="252.30" r="1.95" fill="#9f6fd3" stroke="none" stroke-width="0"/>
<circle cx="404.30" cy="254.60" r="1.95" fill="#9f6fd3" stroke="none" stroke-width="0"/>
<circle cx="407.50" cy="257.30" r="1.95" fill="#9f6fd3" stroke="none" stroke-width="0"/>
<circle cx="410.50" cy="258.40" r="1.95" fill="#9f6fd3" stroke="none" stroke-width="0"/>
<circle cx="413.40" cy="261.50" r="1.95" fill="#9f6fd3" stroke="none" stroke-width="0"/>
<circle cx="416.30" cy="264.30" r="1.95" fill="#9f6fd3" stroke="none" stroke-width="0"/>
<circle cx="419.30" cy="267.00" r="1.95" fill="#9f6fd3" stroke="none" stroke-width="0"/>
<polyline points="309.50,288.00 320.50,273.50 328.80,265.60 335.50,262.90 341.80,262.90 347.10,263.70 352.80,266.10 357.50,266.90 362.60,268.00 367.40,269.40 372.10,272.40 377.20,276.60 382.60,278.80 387.70,280.40 393.00,282.60 398.30,286.00 403.40,290.80 408.70,296.50 413.90,302.80 418.60,305.00" fill="none" stroke="#1b577f" stroke-width="1.2" stroke-linejoin="round" />
<polygon points="309.50,285.62 311.70,289.58 307.30,289.58" fill="#1b577f"/>
<polygon points="320.50,271.12 322.70,275.08 318.30,275.08" fill="#1b577f"/>
<polygon points="328.80,263.22 331.00,267.18 326.60,267.18" fill="#1b577f"/>
<polygon points="335.50,260.52 337.70,264.48 333.30,264.48" fill="#1b577f"/>
<polygon points="341.80,260.52 344.00,264.48 339.60,264.48" fill="#1b577f"/>
<polygon points="347.10,261.32 349.30,265.28 344.90,265.28" fill="#1b577f"/>
<polygon points="352.80,263.72 355.00,267.68 350.60,267.68" fill="#1b577f"/>
<polygon points="357.50,264.52 359.70,268.48 355.30,268.48" fill="#1b577f"/>
<polygon points="362.60,265.62 364.80,269.58 360.40,269.58" fill="#1b577f"/>
<polygon points="367.40,267.02 369.60,270.98 365.20,270.98" fill="#1b577f"/>
<polygon points="372.10,270.02 374.30,273.98 369.90,273.98" fill="#1b577f"/>
<polygon points="377.20,274.22 379.40,278.18 375.00,278.18" fill="#1b577f"/>
<polygon points="382.60,276.42 384.80,280.38 380.40,280.38" fill="#1b577f"/>
<polygon points="387.70,278.02 389.90,281.98 385.50,281.98" fill="#1b577f"/>
<polygon points="393.00,280.22 395.20,284.18 390.80,284.18" fill="#1b577f"/>
<polygon points="398.30,283.62 400.50,287.58 396.10,287.58" fill="#1b577f"/>
<polygon points="403.40,288.42 405.60,292.38 401.20,292.38" fill="#1b577f"/>
<polygon points="408.70,294.12 410.90,298.08 406.50,298.08" fill="#1b577f"/>
<polygon points="413.90,300.42 416.10,304.38 411.70,304.38" fill="#1b577f"/>
<polygon points="418.60,302.62 420.80,306.58 416.40,306.58" fill="#1b577f"/>
<line x1="377.00" y1="194.00" x2="392.60" y2="194.00" stroke="#9f6fd3" stroke-width="1" />
<circle cx="385.00" cy="194.00" r="1.95" fill="#9f6fd3" stroke="none" stroke-width="0"/>
<text x="397.40" y="197.20" font-size="8.8" text-anchor="start" font-weight="normal" fill="#151515" >Target</text>
<line x1="377.00" y1="204.60" x2="392.60" y2="204.60" stroke="#1b577f" stroke-width="1" />
<polygon points="385.00,202.22 387.20,206.18 382.80,206.18" fill="#1b577f"/>
<text x="397.40" y="207.80" font-size="8.8" text-anchor="start" font-weight="normal" fill="#151515" >Control</text>
<line x1="511.60" y1="187.60" x2="675.60" y2="187.60" stroke="#4e4e4e" stroke-width="1.1" />
<line x1="675.60" y1="187.60" x2="675.60" y2="319.50" stroke="#4e4e4e" stroke-width="1.1" />
<line x1="511.60" y1="187.00" x2="511.60" y2="319.50" stroke="#3c3c3c" stroke-width="1" />
<line x1="509.10" y1="319.50" x2="675.60" y2="319.50" stroke="#3c3c3c" stroke-width="1" />
<line x1="509.10" y1="316.80" x2="511.60" y2="316.80" stroke="#3c3c3c" stroke-width="1" />
<text x="504.60" y="320.50" font-size="10.4" text-anchor="end" font-weight="normal" fill="#151515" >0</text>
<line x1="509.10" y1="292.40" x2="511.60" y2="292.40" stroke="#3c3c3c" stroke-width="1" />
<text x="504.60" y="296.10" font-size="10.4" text-anchor="end" font-weight="normal" fill="#151515" >5</text>
<line x1="509.10" y1="268.00" x2="511.60" y2="268.00" stroke="#3c3c3c" stroke-width="1" />
<text x="504.60" y="271.70" font-size="10.4" text-anchor="end" font-weight="normal" fill="#151515" >10</text>
<line x1="509.10" y1="243.60" x2="511.60" y2="243.60" stroke="#3c3c3c" stroke-width="1" />
<text x="504.60" y="247.30" font-size="10.4" text-anchor="end" font-weight="normal" fill="#151515" >15</text>
<line x1="509.10" y1="219.20" x2="511.60" y2="219.20" stroke="#3c3c3c" stroke-width="1" />
<text x="504.60" y="222.90" font-size="10.4" text-anchor="end" font-weight="normal" fill="#151515" >20</text>
<line x1="509.10" y1="194.80" x2="511.60" y2="194.80" stroke="#3c3c3c" stroke-width="1" />
<text x="504.60" y="198.50" font-size="10.4" text-anchor="end" font-weight="normal" fill="#151515" >25</text>
<line x1="510.10" y1="304.60" x2="511.60" y2="304.60" stroke="#3c3c3c" stroke-width="0.8" />
<line x1="510.10" y1="280.20" x2="511.60" y2="280.20" stroke="#3c3c3c" stroke-width="0.8" />
<line x1="510.10" y1="255.80" x2="511.60" y2="255.80" stroke="#3c3c3c" stroke-width="0.8" />
<line x1="510.10" y1="231.40" x2="511.60" y2="231.40" stroke="#3c3c3c" stroke-width="0.8" />
<line x1="510.10" y1="207.00" x2="511.60" y2="207.00" stroke="#3c3c3c" stroke-width="0.8" />
<line x1="511.60" y1="319.50" x2="511.60" y2="322.00" stroke="#3c3c3c" stroke-width="1" />
<text x="511.60" y="334.40" font-size="10.3" text-anchor="middle" font-weight="normal" fill="#151515" letter-spacing="-0.2">1</text>
<line x1="541.45" y1="319.50" x2="541.45" y2="322.00" stroke="#3c3c3c" stroke-width="1" />
<text x="541.45" y="334.40" font-size="10.3" text-anchor="middle" font-weight="normal" fill="#151515" letter-spacing="-0.2">2</text>
<line x1="571.30" y1="319.50" x2="571.30" y2="322.00" stroke="#3c3c3c" stroke-width="1" />
<text x="571.30" y="334.40" font-size="10.3" text-anchor="middle" font-weight="normal" fill="#151515" letter-spacing="-0.2">3</text>
<line x1="601.15" y1="319.50" x2="601.15" y2="322.00" stroke="#3c3c3c" stroke-width="1" />
<text x="601.15" y="334.40" font-size="10.3" text-anchor="middle" font-weight="normal" fill="#151515" letter-spacing="-0.2">4</text>
<line x1="631.00" y1="319.50" x2="631.00" y2="322.00" stroke="#3c3c3c" stroke-width="1" />
<text x="631.00" y="334.40" font-size="10.3" text-anchor="middle" font-weight="normal" fill="#151515" letter-spacing="-0.2">5</text>
<line x1="660.85" y1="319.50" x2="660.85" y2="322.00" stroke="#3c3c3c" stroke-width="1" />
<text x="660.85" y="334.40" font-size="10.3" text-anchor="middle" font-weight="normal" fill="#151515" letter-spacing="-0.2">6</text>
<line x1="526.52" y1="319.50" x2="526.52" y2="321.00" stroke="#3c3c3c" stroke-width="0.8" />
<line x1="556.38" y1="319.50" x2="556.38" y2="321.00" stroke="#3c3c3c" stroke-width="0.8" />
<line x1="586.23" y1="319.50" x2="586.23" y2="321.00" stroke="#3c3c3c" stroke-width="0.8" />
<line x1="616.08" y1="319.50" x2="616.08" y2="321.00" stroke="#3c3c3c" stroke-width="0.8" />
<line x1="645.93" y1="319.50" x2="645.93" y2="321.00" stroke="#3c3c3c" stroke-width="0.8" />
<text x="591.60" y="351.20" font-size="10.3" text-anchor="middle" font-weight="normal" fill="#151515" >Voltage (V)</text>
<text transform="translate(482.2,253) rotate(-90)" font-size="10.3" text-anchor="middle" fill="#151515">Radiance (W sr<tspan font-size="7.2" dy="-4">−1</tspan><tspan dy="4"> m</tspan><tspan font-size="7.2" dy="-4">−2</tspan><tspan dy="4">)</tspan></text>
<defs>
<filter id="blur4" x="-50%" y="-50%" width="200%" height="200%"><feGaussianBlur stdDeviation="3.5"/></filter><filter id="blur2" x="-50%" y="-50%" width="200%" height="200%"><feGaussianBlur stdDeviation="1.6"/></filter>
<filter id="blur06" x="-10%" y="-10%" width="120%" height="120%"><feGaussianBlur stdDeviation="0.6"/></filter>
<clipPath id="insclip"><rect x="524.2" y="193.1" width="64.6" height="53.6"/></clipPath>
</defs>
<rect x="524.2" y="193.1" width="64.6" height="53.6" fill="#1d0d11"/>
<g clip-path="url(#insclip)">
<rect x="529" y="194" width="50" height="46" fill="#5a3a42" filter="url(#blur4)"/>
<rect x="535" y="198" width="41" height="38" fill="#a47c86" filter="url(#blur4)"/>
<rect x="538.5" y="201.5" width="35" height="32" fill="#ead2d8" filter="url(#blur2)"/>
</g>
<rect x="571.5" y="203.8" width="3" height="27.5" fill="#c8afdb" filter="url(#blur06)"/>
<rect x="540.7" y="203.8" width="30.8" height="27.5" fill="#fffafb" filter="url(#blur06)"/>
<text x="525.5" y="244.2" font-size="8.6" fill="#fff">R<tspan font-size="6" dy="2">a</tspan><tspan dy="-2">=6 W sr</tspan><tspan font-size="6" dy="-3.5">−1</tspan><tspan dy="3.5">m</tspan><tspan font-size="6" dy="-3.5">−2</tspan></text>
<polyline points="529.51,316.70 532.50,316.70 535.48,316.50 538.47,316.20 541.45,315.90 544.44,315.40 550.40,314.60 556.38,313.30 562.35,311.40 568.32,309.30 574.29,306.30 580.25,302.80 586.23,299.10 592.20,294.60 598.16,289.70 604.13,284.30 610.11,277.80 616.08,271.30 622.05,263.40 628.02,248.40 633.99,234.20 639.96,224.20 645.93,214.60 651.89,206.00 657.87,200.40" fill="none" stroke="#9f6fd3" stroke-width="1.1" stroke-linejoin="round" />
<circle cx="529.51" cy="316.70" r="1.95" fill="#9f6fd3" stroke="none" stroke-width="0"/>
<circle cx="532.50" cy="316.70" r="1.95" fill="#9f6fd3" stroke="none" stroke-width="0"/>
<circle cx="535.48" cy="316.50" r="1.95" fill="#9f6fd3" stroke="none" stroke-width="0"/>
<circle cx="538.47" cy="316.20" r="1.95" fill="#9f6fd3" stroke="none" stroke-width="0"/>
<circle cx="541.45" cy="315.90" r="1.95" fill="#9f6fd3" stroke="none" stroke-width="0"/>
<circle cx="544.44" cy="315.40" r="1.95" fill="#9f6fd3" stroke="none" stroke-width="0"/>
<circle cx="550.40" cy="314.60" r="1.95" fill="#9f6fd3" stroke="none" stroke-width="0"/>
<circle cx="556.38" cy="313.30" r="1.95" fill="#9f6fd3" stroke="none" stroke-width="0"/>
<circle cx="562.35" cy="311.40" r="1.95" fill="#9f6fd3" stroke="none" stroke-width="0"/>
<circle cx="568.32" cy="309.30" r="1.95" fill="#9f6fd3" stroke="none" stroke-width="0"/>
<circle cx="574.29" cy="306.30" r="1.95" fill="#9f6fd3" stroke="none" stroke-width="0"/>
<circle cx="580.25" cy="302.80" r="1.95" fill="#9f6fd3" stroke="none" stroke-width="0"/>
<circle cx="586.23" cy="299.10" r="1.95" fill="#9f6fd3" stroke="none" stroke-width="0"/>
<circle cx="592.20" cy="294.60" r="1.95" fill="#9f6fd3" stroke="none" stroke-width="0"/>
<circle cx="598.16" cy="289.70" r="1.95" fill="#9f6fd3" stroke="none" stroke-width="0"/>
<circle cx="604.13" cy="284.30" r="1.95" fill="#9f6fd3" stroke="none" stroke-width="0"/>
<circle cx="610.11" cy="277.80" r="1.95" fill="#9f6fd3" stroke="none" stroke-width="0"/>
<circle cx="616.08" cy="271.30" r="1.95" fill="#9f6fd3" stroke="none" stroke-width="0"/>
<circle cx="622.05" cy="263.40" r="1.95" fill="#9f6fd3" stroke="none" stroke-width="0"/>
<circle cx="628.02" cy="248.40" r="1.95" fill="#9f6fd3" stroke="none" stroke-width="0"/>
<circle cx="633.99" cy="234.20" r="1.95" fill="#9f6fd3" stroke="none" stroke-width="0"/>
<circle cx="639.96" cy="224.20" r="1.95" fill="#9f6fd3" stroke="none" stroke-width="0"/>
<circle cx="645.93" cy="214.60" r="1.95" fill="#9f6fd3" stroke="none" stroke-width="0"/>
<circle cx="651.89" cy="206.00" r="1.95" fill="#9f6fd3" stroke="none" stroke-width="0"/>
<circle cx="657.87" cy="200.40" r="1.95" fill="#9f6fd3" stroke="none" stroke-width="0"/>
<polyline points="535.48,316.70 538.47,316.50 541.45,316.30 544.44,316.10 550.40,316.00 556.38,315.80 562.35,315.40 568.32,315.10 574.29,314.60 580.25,313.90 586.23,313.00 592.20,311.90 598.16,309.70 604.13,306.20 610.11,304.10 616.08,301.30 622.05,297.60 628.02,293.90 633.99,289.50 639.96,284.40" fill="none" stroke="#1b577f" stroke-width="1.2" stroke-linejoin="round" />
<polygon points="535.48,314.32 537.68,318.28 533.28,318.28" fill="#1b577f"/>
<polygon points="538.47,314.12 540.67,318.08 536.26,318.08" fill="#1b577f"/>
<polygon points="541.45,313.92 543.65,317.88 539.25,317.88" fill="#1b577f"/>
<polygon points="544.44,313.72 546.64,317.68 542.24,317.68" fill="#1b577f"/>
<polygon points="550.40,313.62 552.61,317.58 548.20,317.58" fill="#1b577f"/>
<polygon points="556.38,313.42 558.58,317.38 554.17,317.38" fill="#1b577f"/>
<polygon points="562.35,313.02 564.55,316.98 560.14,316.98" fill="#1b577f"/>
<polygon points="568.32,312.72 570.52,316.68 566.12,316.68" fill="#1b577f"/>
<polygon points="574.29,312.22 576.49,316.18 572.09,316.18" fill="#1b577f"/>
<polygon points="580.25,311.52 582.46,315.48 578.05,315.48" fill="#1b577f"/>
<polygon points="586.23,310.62 588.43,314.58 584.02,314.58" fill="#1b577f"/>
<polygon points="592.20,309.52 594.40,313.48 590.00,313.48" fill="#1b577f"/>
<polygon points="598.16,307.32 600.37,311.28 595.96,311.28" fill="#1b577f"/>
<polygon points="604.13,303.82 606.34,307.78 601.93,307.78" fill="#1b577f"/>
<polygon points="610.11,301.72 612.31,305.68 607.90,305.68" fill="#1b577f"/>
<polygon points="616.08,298.92 618.28,302.88 613.88,302.88" fill="#1b577f"/>
<polygon points="622.05,295.22 624.25,299.18 619.85,299.18" fill="#1b577f"/>
<polygon points="628.02,291.52 630.22,295.48 625.82,295.48" fill="#1b577f"/>
<polygon points="633.99,287.12 636.19,291.08 631.78,291.08" fill="#1b577f"/>
<polygon points="639.96,282.02 642.16,285.98 637.75,285.98" fill="#1b577f"/>
<line x1="534.60" y1="257.00" x2="549.00" y2="257.00" stroke="#9f6fd3" stroke-width="1" />
<circle cx="541.80" cy="257.00" r="1.95" fill="#9f6fd3" stroke="none" stroke-width="0"/>
<text x="554.00" y="260.20" font-size="8.8" text-anchor="start" font-weight="normal" fill="#151515" >Target</text>
<line x1="534.60" y1="267.60" x2="549.00" y2="267.60" stroke="#1b577f" stroke-width="1" />
<polygon points="541.80,265.22 544.00,269.18 539.60,269.18" fill="#1b577f"/>
<text x="554.00" y="270.80" font-size="8.8" text-anchor="start" font-weight="normal" fill="#151515" >Control</text>
<line x1="44.40" y1="379.10" x2="208.90" y2="379.10" stroke="#a9a9a9" stroke-width="1.3" />
<line x1="208.90" y1="379.10" x2="208.90" y2="511.00" stroke="#a9a9a9" stroke-width="1.3" />
<line x1="44.40" y1="378.50" x2="44.40" y2="511.00" stroke="#3c3c3c" stroke-width="1" />
<line x1="41.90" y1="511.00" x2="208.90" y2="511.00" stroke="#3c3c3c" stroke-width="1" />
<line x1="65.10" y1="511.00" x2="65.10" y2="513.50" stroke="#3c3c3c" stroke-width="1" />
<text x="65.10" y="526.40" font-size="10.3" text-anchor="middle" font-weight="normal" fill="#151515" letter-spacing="-0.2">600</text>
<line x1="105.95" y1="511.00" x2="105.95" y2="513.50" stroke="#3c3c3c" stroke-width="1" />
<text x="105.95" y="526.40" font-size="10.3" text-anchor="middle" font-weight="normal" fill="#151515" letter-spacing="-0.2">700</text>
<line x1="146.80" y1="511.00" x2="146.80" y2="513.50" stroke="#3c3c3c" stroke-width="1" />
<text x="146.80" y="526.40" font-size="10.3" text-anchor="middle" font-weight="normal" fill="#151515" letter-spacing="-0.2">800</text>
<line x1="187.65" y1="511.00" x2="187.65" y2="513.50" stroke="#3c3c3c" stroke-width="1" />
<text x="187.65" y="526.40" font-size="10.3" text-anchor="middle" font-weight="normal" fill="#151515" letter-spacing="-0.2">900</text>
<line x1="85.52" y1="511.00" x2="85.52" y2="512.50" stroke="#3c3c3c" stroke-width="0.8" />
<line x1="126.38" y1="511.00" x2="126.38" y2="512.50" stroke="#3c3c3c" stroke-width="0.8" />
<line x1="167.22" y1="511.00" x2="167.22" y2="512.50" stroke="#3c3c3c" stroke-width="0.8" />
<line x1="208.07" y1="511.00" x2="208.07" y2="512.50" stroke="#3c3c3c" stroke-width="0.8" />
<text x="127.00" y="542.30" font-size="10.3" text-anchor="middle" font-weight="normal" fill="#151515" >Wavelength (nm)</text>
<text transform="translate(35.5,446) rotate(-90)" font-size="10.3" text-anchor="middle" fill="#151515">EL intensity</text>
<polyline points="44.40,509.80 45.40,509.80 46.40,509.79 47.40,509.79 48.40,509.78 49.40,509.78 50.40,509.77 51.40,509.77 52.40,509.76 53.40,509.76 54.40,509.75 55.40,509.74 56.40,509.74 57.40,509.73 58.40,509.72 59.40,509.72 60.40,509.71 61.40,509.70 62.40,509.70 63.40,509.69 64.40,509.68 65.40,509.67 66.40,509.66 67.40,509.65 68.40,509.64 69.40,509.63 70.40,509.62 71.40,509.61 72.40,509.60 73.40,509.58 74.40,509.57 75.40,509.56 76.40,509.54 77.40,509.53 78.40,509.51 79.40,509.50 80.40,509.48 81.40,509.46 82.40,509.44 83.40,509.42 84.40,509.40 85.40,509.38 86.40,509.35 87.40,509.33 88.40,509.30 89.40,509.27 90.40,509.24 91.40,509.21 92.40,509.18 93.40,509.14 94.40,509.10 95.40,509.06 96.40,509.01 97.40,508.97 98.40,508.92 99.40,508.86 100.40,508.80 101.40,508.74 102.40,508.67 103.40,508.60 104.40,508.51 105.40,508.43 106.40,508.33 107.40,508.22 108.40,508.10 109.40,507.96 110.40,507.80 111.40,507.60 112.40,507.37 113.40,507.08 114.40,506.71 115.40,506.23 116.40,505.61 117.40,504.78 118.40,503.70 119.40,502.28 120.40,500.44 121.40,498.08 122.40,495.10 123.40,491.41 124.40,486.91 125.40,481.55 126.40,475.31 127.40,468.19 128.40,460.30 129.40,451.78 130.40,442.85 131.40,433.80 132.40,425.01 133.40,416.88 134.40,409.85 135.40,404.36 136.40,400.79 137.40,399.41 138.40,400.25 139.40,403.11 140.40,407.80 141.40,414.01 142.40,421.38 143.40,429.52 144.40,438.06 145.40,446.66 146.40,455.04 147.40,462.97 148.40,470.28 149.40,476.84 150.40,482.62 151.40,487.58 152.40,491.77 153.40,495.24 154.40,498.07 155.40,500.33 156.40,502.12 157.40,503.51 158.40,504.59 159.40,505.43 160.40,506.07 161.40,506.56 162.40,506.95 163.40,507.25 164.40,507.50 165.40,507.70 166.40,507.87 167.40,508.01 168.40,508.14 169.40,508.25 170.40,508.35 171.40,508.44 172.40,508.53 173.40,508.60 174.40,508.67 175.40,508.74 176.40,508.80 177.40,508.86 178.40,508.91 179.40,508.96 180.40,509.00 181.40,509.05 182.40,509.09 183.40,509.12 184.40,509.16 185.40,509.19 186.40,509.22 187.40,509.25 188.40,509.28 189.40,509.31 190.40,509.33 191.40,509.36 192.40,509.38 193.40,509.40 194.40,509.42 195.40,509.44 196.40,509.46 197.40,509.48 198.40,509.49 199.40,509.51 200.40,509.52 201.40,509.54 202.40,509.55 203.40,509.57 204.40,509.58 205.40,509.59 206.40,509.60 207.40,509.61 208.40,509.62 209.40,509.63" fill="none" stroke="#5eb0e3" stroke-width="0.9" stroke-linejoin="round" />
<polyline points="44.40,509.83 45.40,509.83 46.40,509.83 47.40,509.82 48.40,509.82 49.40,509.81 50.40,509.81 51.40,509.81 52.40,509.80 53.40,509.80 54.40,509.79 55.40,509.79 56.40,509.78 57.40,509.78 58.40,509.77 59.40,509.76 60.40,509.76 61.40,509.75 62.40,509.75 63.40,509.74 64.40,509.73 65.40,509.72 66.40,509.72 67.40,509.71 68.40,509.70 69.40,509.69 70.40,509.68 71.40,509.67 72.40,509.66 73.40,509.65 74.40,509.64 75.40,509.63 76.40,509.62 77.40,509.61 78.40,509.59 79.40,509.58 80.40,509.56 81.40,509.55 82.40,509.53 83.40,509.52 84.40,509.50 85.40,509.48 86.40,509.46 87.40,509.44 88.40,509.41 89.40,509.39 90.40,509.37 91.40,509.34 92.40,509.31 93.40,509.28 94.40,509.25 95.40,509.21 96.40,509.18 97.40,509.14 98.40,509.09 99.40,509.05 100.40,509.00 101.40,508.95 102.40,508.89 103.40,508.83 104.40,508.76 105.40,508.68 106.40,508.60 107.40,508.51 108.40,508.41 109.40,508.29 110.40,508.16 111.40,508.00 112.40,507.80 113.40,507.56 114.40,507.25 115.40,506.85 116.40,506.32 117.40,505.64 118.40,504.73 119.40,503.54 120.40,502.00 121.40,500.03 122.40,497.54 123.40,494.45 124.40,490.69 125.40,486.21 126.40,480.98 127.40,475.04 128.40,468.43 129.40,461.31 130.40,453.84 131.40,446.27 132.40,438.92 133.40,432.12 134.40,426.24 135.40,421.65 136.40,418.66 137.40,417.51 138.40,418.21 139.40,420.60 140.40,424.53 141.40,429.72 142.40,435.88 143.40,442.69 144.40,449.83 145.40,457.03 146.40,464.04 147.40,470.67 148.40,476.78 149.40,482.27 150.40,487.10 151.40,491.25 152.40,494.76 153.40,497.66 154.40,500.02 155.40,501.91 156.40,503.41 157.40,504.57 158.40,505.48 159.40,506.17 160.40,506.71 161.40,507.12 162.40,507.45 163.40,507.70 164.40,507.91 165.40,508.08 166.40,508.22 167.40,508.34 168.40,508.44 169.40,508.54 170.40,508.62 171.40,508.70 172.40,508.77 173.40,508.83 174.40,508.89 175.40,508.95 176.40,509.00 177.40,509.04 178.40,509.09 179.40,509.13 180.40,509.17 181.40,509.20 182.40,509.24 183.40,509.27 184.40,509.30 185.40,509.33 186.40,509.35 187.40,509.38 188.40,509.40 189.40,509.42 190.40,509.44 191.40,509.46 192.40,509.48 193.40,509.50 194.40,509.52 195.40,509.53 196.40,509.55 197.40,509.56 198.40,509.58 199.40,509.59 200.40,509.60 201.40,509.61 202.40,509.63 203.40,509.64 204.40,509.65 205.40,509.66 206.40,509.67 207.40,509.68 208.40,509.69 209.40,509.69" fill="none" stroke="#3f86c6" stroke-width="0.9" stroke-linejoin="round" />
<polyline points="44.40,509.86 45.40,509.86 46.40,509.86 47.40,509.85 48.40,509.85 49.40,509.85 50.40,509.84 51.40,509.84 52.40,509.83 53.40,509.83 54.40,509.83 55.40,509.82 56.40,509.82 57.40,509.81 58.40,509.81 59.40,509.80 60.40,509.80 61.40,509.79 62.40,509.79 63.40,509.78 64.40,509.78 65.40,509.77 66.40,509.76 67.40,509.76 68.40,509.75 69.40,509.74 70.40,509.74 71.40,509.73 72.40,509.72 73.40,509.71 74.40,509.70 75.40,509.69 76.40,509.68 77.40,509.67 78.40,509.66 79.40,509.65 80.40,509.64 81.40,509.62 82.40,509.61 83.40,509.60 84.40,509.58 85.40,509.57 86.40,509.55 87.40,509.53 88.40,509.51 89.40,509.49 90.40,509.47 91.40,509.45 92.40,509.43 93.40,509.40 94.40,509.37 95.40,509.34 96.40,509.31 97.40,509.28 98.40,509.25 99.40,509.21 100.40,509.17 101.40,509.12 102.40,509.07 103.40,509.02 104.40,508.97 105.40,508.90 106.40,508.84 107.40,508.76 108.40,508.68 109.40,508.58 110.40,508.47 111.40,508.33 112.40,508.17 113.40,507.97 114.40,507.71 115.40,507.38 116.40,506.94 117.40,506.37 118.40,505.61 119.40,504.63 120.40,503.34 121.40,501.70 122.40,499.63 123.40,497.06 124.40,493.93 125.40,490.20 126.40,485.85 127.40,480.89 128.40,475.40 129.40,469.46 130.40,463.25 131.40,456.95 132.40,450.83 133.40,445.17 134.40,440.28 135.40,436.45 136.40,433.97 137.40,433.01 138.40,433.59 139.40,435.58 140.40,438.85 141.40,443.17 142.40,448.30 143.40,453.97 144.40,459.91 145.40,465.90 146.40,471.74 147.40,477.26 148.40,482.34 149.40,486.92 150.40,490.93 151.40,494.39 152.40,497.31 153.40,499.73 154.40,501.69 155.40,503.27 156.40,504.51 157.40,505.48 158.40,506.24 159.40,506.82 160.40,507.26 161.40,507.61 162.40,507.88 163.40,508.09 164.40,508.26 165.40,508.40 166.40,508.52 167.40,508.62 168.40,508.70 169.40,508.78 170.40,508.85 171.40,508.92 172.40,508.97 173.40,509.03 174.40,509.08 175.40,509.12 176.40,509.16 177.40,509.20 178.40,509.24 179.40,509.27 180.40,509.31 181.40,509.34 182.40,509.36 183.40,509.39 184.40,509.42 185.40,509.44 186.40,509.46 187.40,509.48 188.40,509.50 189.40,509.52 190.40,509.54 191.40,509.55 192.40,509.57 193.40,509.58 194.40,509.60 195.40,509.61 196.40,509.62 197.40,509.64 198.40,509.65 199.40,509.66 200.40,509.67 201.40,509.68 202.40,509.69 203.40,509.70 204.40,509.71 205.40,509.72 206.40,509.72 207.40,509.73 208.40,509.74 209.40,509.75" fill="none" stroke="#68b3e0" stroke-width="0.9" stroke-linejoin="round" />
<polyline points="44.40,509.89 45.40,509.88 46.40,509.88 47.40,509.88 48.40,509.88 49.40,509.87 50.40,509.87 51.40,509.87 52.40,509.86 53.40,509.86 54.40,509.86 55.40,509.85 56.40,509.85 57.40,509.85 58.40,509.84 59.40,509.84 60.40,509.84 61.40,509.83 62.40,509.83 63.40,509.82 64.40,509.82 65.40,509.81 66.40,509.81 67.40,509.80 68.40,509.80 69.40,509.79 70.40,509.78 71.40,509.78 72.40,509.77 73.40,509.76 74.40,509.76 75.40,509.75 76.40,509.74 77.40,509.73 78.40,509.72 79.40,509.71 80.40,509.70 81.40,509.69 82.40,509.68 83.40,509.67 84.40,509.66 85.40,509.64 86.40,509.63 87.40,509.62 88.40,509.60 89.40,509.59 90.40,509.57 91.40,509.55 92.40,509.53 93.40,509.51 94.40,509.49 95.40,509.46 96.40,509.44 97.40,509.41 98.40,509.38 99.40,509.35 100.40,509.32 101.40,509.28 102.40,509.24 103.40,509.20 104.40,509.15 105.40,509.10 106.40,509.05 107.40,508.99 108.40,508.92 109.40,508.84 110.40,508.74 111.40,508.64 112.40,508.50 113.40,508.34 114.40,508.13 115.40,507.85 116.40,507.50 117.40,507.03 118.40,506.41 119.40,505.60 120.40,504.55 121.40,503.21 122.40,501.51 123.40,499.41 124.40,496.85 125.40,493.80 126.40,490.24 127.40,486.19 128.40,481.69 129.40,476.83 130.40,471.75 131.40,466.60 132.40,461.59 133.40,456.96 134.40,452.95 135.40,449.83 136.40,447.79 137.40,447.01 138.40,447.48 139.40,449.11 140.40,451.79 141.40,455.32 142.40,459.52 143.40,464.16 144.40,469.02 145.40,473.92 146.40,478.70 147.40,483.21 148.40,487.37 149.40,491.11 150.40,494.40 151.40,497.23 152.40,499.62 153.40,501.59 154.40,503.20 155.40,504.49 156.40,505.51 157.40,506.30 158.40,506.92 159.40,507.39 160.40,507.76 161.40,508.04 162.40,508.26 163.40,508.44 164.40,508.57 165.40,508.69 166.40,508.79 167.40,508.87 168.40,508.94 169.40,509.00 170.40,509.06 171.40,509.11 172.40,509.16 173.40,509.20 174.40,509.24 175.40,509.28 176.40,509.32 177.40,509.35 178.40,509.38 179.40,509.41 180.40,509.43 181.40,509.46 182.40,509.48 183.40,509.50 184.40,509.52 185.40,509.54 186.40,509.56 187.40,509.58 188.40,509.59 189.40,509.61 190.40,509.62 191.40,509.63 192.40,509.65 193.40,509.66 194.40,509.67 195.40,509.68 196.40,509.69 197.40,509.70 198.40,509.71 199.40,509.72 200.40,509.73 201.40,509.74 202.40,509.75 203.40,509.75 204.40,509.76 205.40,509.77 206.40,509.77 207.40,509.78 208.40,509.79 209.40,509.79" fill="none" stroke="#a48cd2" stroke-width="0.9" stroke-linejoin="round" />
<polyline points="44.40,509.91 45.40,509.91 46.40,509.90 47.40,509.90 48.40,509.90 49.40,509.90 50.40,509.89 51.40,509.89 52.40,509.89 53.40,509.89 54.40,509.88 55.40,509.88 56.40,509.88 57.40,509.88 58.40,509.87 59.40,509.87 60.40,509.87 61.40,509.86 62.40,509.86 63.40,509.85 64.40,509.85 65.40,509.85 66.40,509.84 67.40,509.84 68.40,509.83 69.40,509.83 70.40,509.82 71.40,509.82 72.40,509.81 73.40,509.81 74.40,509.80 75.40,509.79 76.40,509.79 77.40,509.78 78.40,509.77 79.40,509.77 80.40,509.76 81.40,509.75 82.40,509.74 83.40,509.73 84.40,509.72 85.40,509.71 86.40,509.70 87.40,509.69 88.40,509.67 89.40,509.66 90.40,509.65 91.40,509.63 92.40,509.62 93.40,509.60 94.40,509.58 95.40,509.56 96.40,509.54 97.40,509.52 98.40,509.50 99.40,509.47 100.40,509.44 101.40,509.41 102.40,509.38 103.40,509.35 104.40,509.31 105.40,509.27 106.40,509.22 107.40,509.17 108.40,509.11 109.40,509.05 110.40,508.97 111.40,508.88 112.40,508.78 113.40,508.64 114.40,508.47 115.40,508.25 116.40,507.95 117.40,507.57 118.40,507.07 119.40,506.41 120.40,505.55 121.40,504.45 122.40,503.06 123.40,501.34 124.40,499.25 125.40,496.75 126.40,493.85 127.40,490.53 128.40,486.86 129.40,482.89 130.40,478.73 131.40,474.52 132.40,470.43 133.40,466.64 134.40,463.37 135.40,460.81 136.40,459.15 137.40,458.51 138.40,458.89 139.40,460.23 140.40,462.41 141.40,465.30 142.40,468.73 143.40,472.52 144.40,476.50 145.40,480.51 146.40,484.41 147.40,488.10 148.40,491.50 149.40,494.56 150.40,497.25 151.40,499.56 152.40,501.51 153.40,503.13 154.40,504.44 155.40,505.50 156.40,506.33 157.40,506.98 158.40,507.48 159.40,507.87 160.40,508.17 161.40,508.40 162.40,508.58 163.40,508.72 164.40,508.84 165.40,508.93 166.40,509.01 167.40,509.07 168.40,509.13 169.40,509.19 170.40,509.23 171.40,509.28 172.40,509.31 173.40,509.35 174.40,509.38 175.40,509.41 176.40,509.44 177.40,509.47 178.40,509.49 179.40,509.51 180.40,509.54 181.40,509.56 182.40,509.57 183.40,509.59 184.40,509.61 185.40,509.62 186.40,509.64 187.40,509.65 188.40,509.67 189.40,509.68 190.40,509.69 191.40,509.70 192.40,509.71 193.40,509.72 194.40,509.73 195.40,509.74 196.40,509.75 197.40,509.76 198.40,509.76 199.40,509.77 200.40,509.78 201.40,509.79 202.40,509.79 203.40,509.80 204.40,509.80 205.40,509.81 206.40,509.81 207.40,509.82 208.40,509.83 209.40,509.83" fill="none" stroke="#8a6cc8" stroke-width="0.9" stroke-linejoin="round" />
<polyline points="44.40,509.93 45.40,509.92 46.40,509.92 47.40,509.92 48.40,509.92 49.40,509.92 50.40,509.92 51.40,509.91 52.40,509.91 53.40,509.91 54.40,509.91 55.40,509.90 56.40,509.90 57.40,509.90 58.40,509.90 59.40,509.89 60.40,509.89 61.40,509.89 62.40,509.89 63.40,509.88 64.40,509.88 65.40,509.88 66.40,509.87 67.40,509.87 68.40,509.87 69.40,509.86 70.40,509.86 71.40,509.85 72.40,509.85 73.40,509.85 74.40,509.84 75.40,509.84 76.40,509.83 77.40,509.82 78.40,509.82 79.40,509.81 80.40,509.81 81.40,509.80 82.40,509.79 83.40,509.78 84.40,509.78 85.40,509.77 86.40,509.76 87.40,509.75 88.40,509.74 89.40,509.73 90.40,509.72 91.40,509.71 92.40,509.69 93.40,509.68 94.40,509.66 95.40,509.65 96.40,509.63 97.40,509.62 98.40,509.60 99.40,509.58 100.40,509.55 101.40,509.53 102.40,509.50 103.40,509.48 104.40,509.45 105.40,509.41 106.40,509.38 107.40,509.34 108.40,509.29 109.40,509.24 110.40,509.18 111.40,509.11 112.40,509.02 113.40,508.91 114.40,508.77 115.40,508.60 116.40,508.36 117.40,508.06 118.40,507.65 119.40,507.12 120.40,506.44 121.40,505.56 122.40,504.45 123.40,503.07 124.40,501.40 125.40,499.40 126.40,497.08 127.40,494.43 128.40,491.49 129.40,488.31 130.40,484.98 131.40,481.62 132.40,478.34 133.40,475.31 134.40,472.69 135.40,470.65 136.40,469.32 137.40,468.80 138.40,469.12 139.40,470.18 140.40,471.93 141.40,474.24 142.40,476.99 143.40,480.02 144.40,483.20 145.40,486.41 146.40,489.53 147.40,492.48 148.40,495.20 149.40,497.65 150.40,499.80 151.40,501.65 152.40,503.21 153.40,504.50 154.40,505.55 155.40,506.40 156.40,507.06 157.40,507.58 158.40,507.99 159.40,508.30 160.40,508.53 161.40,508.72 162.40,508.86 163.40,508.98 164.40,509.07 165.40,509.14 166.40,509.21 167.40,509.26 168.40,509.31 169.40,509.35 170.40,509.39 171.40,509.42 172.40,509.45 173.40,509.48 174.40,509.51 175.40,509.53 176.40,509.55 177.40,509.57 178.40,509.59 179.40,509.61 180.40,509.63 181.40,509.64 182.40,509.66 183.40,509.67 184.40,509.69 185.40,509.70 186.40,509.71 187.40,509.72 188.40,509.73 189.40,509.74 190.40,509.75 191.40,509.76 192.40,509.77 193.40,509.78 194.40,509.78 195.40,509.79 196.40,509.80 197.40,509.81 198.40,509.81 199.40,509.82 200.40,509.82 201.40,509.83 202.40,509.83 203.40,509.84 204.40,509.84 205.40,509.85 206.40,509.85 207.40,509.86 208.40,509.86 209.40,509.86" fill="none" stroke="#6b4eb0" stroke-width="0.9" stroke-linejoin="round" />
<polyline points="44.40,509.94 45.40,509.94 46.40,509.94 47.40,509.94 48.40,509.94 49.40,509.94 50.40,509.93 51.40,509.93 52.40,509.93 53.40,509.93 54.40,509.93 55.40,509.93 56.40,509.92 57.40,509.92 58.40,509.92 59.40,509.92 60.40,509.92 61.40,509.91 62.40,509.91 63.40,509.91 64.40,509.91 65.40,509.90 66.40,509.90 67.40,509.90 68.40,509.90 69.40,509.89 70.40,509.89 71.40,509.89 72.40,509.88 73.40,509.88 74.40,509.88 75.40,509.87 76.40,509.87 77.40,509.86 78.40,509.86 79.40,509.85 80.40,509.85 81.40,509.84 82.40,509.84 83.40,509.83 84.40,509.82 85.40,509.82 86.40,509.81 87.40,509.80 88.40,509.80 89.40,509.79 90.40,509.78 91.40,509.77 92.40,509.76 93.40,509.75 94.40,509.74 95.40,509.73 96.40,509.71 97.40,509.70 98.40,509.68 99.40,509.67 100.40,509.65 101.40,509.63 102.40,509.61 103.40,509.59 104.40,509.57 105.40,509.54 106.40,509.51 107.40,509.48 108.40,509.45 109.40,509.41 110.40,509.36 111.40,509.30 112.40,509.23 113.40,509.15 114.40,509.04 115.40,508.90 116.40,508.72 117.40,508.48 118.40,508.17 119.40,507.75 120.40,507.22 121.40,506.53 122.40,505.66 123.40,504.59 124.40,503.28 125.40,501.72 126.40,499.90 127.40,497.83 128.40,495.53 129.40,493.05 130.40,490.45 131.40,487.82 132.40,485.26 133.40,482.89 134.40,480.84 135.40,479.24 136.40,478.20 137.40,477.80 138.40,478.05 139.40,478.88 140.40,480.25 141.40,482.05 142.40,484.20 143.40,486.57 144.40,489.06 145.40,491.56 146.40,494.00 147.40,496.31 148.40,498.43 149.40,500.35 150.40,502.03 151.40,503.47 152.40,504.69 153.40,505.70 154.40,506.53 155.40,507.18 156.40,507.70 157.40,508.11 158.40,508.43 159.40,508.67 160.40,508.85 161.40,509.00 162.40,509.11 163.40,509.20 164.40,509.27 165.40,509.33 166.40,509.38 167.40,509.42 168.40,509.46 169.40,509.49 170.40,509.52 171.40,509.55 172.40,509.57 173.40,509.59 174.40,509.61 175.40,509.63 176.40,509.65 177.40,509.67 178.40,509.68 179.40,509.70 180.40,509.71 181.40,509.72 182.40,509.73 183.40,509.75 184.40,509.76 185.40,509.77 186.40,509.77 187.40,509.78 188.40,509.79 189.40,509.80 190.40,509.81 191.40,509.81 192.40,509.82 193.40,509.83 194.40,509.83 195.40,509.84 196.40,509.84 197.40,509.85 198.40,509.85 199.40,509.86 200.40,509.86 201.40,509.87 202.40,509.87 203.40,509.87 204.40,509.88 205.40,509.88 206.40,509.88 207.40,509.89 208.40,509.89 209.40,509.89" fill="none" stroke="#2f73b8" stroke-width="0.9" stroke-linejoin="round" />
<polyline points="44.40,509.96 45.40,509.96 46.40,509.95 47.40,509.95 48.40,509.95 49.40,509.95 50.40,509.95 51.40,509.95 52.40,509.95 53.40,509.95 54.40,509.94 55.40,509.94 56.40,509.94 57.40,509.94 58.40,509.94 59.40,509.94 60.40,509.94 61.40,509.93 62.40,509.93 63.40,509.93 64.40,509.93 65.40,509.93 66.40,509.93 67.40,509.92 68.40,509.92 69.40,509.92 70.40,509.92 71.40,509.91 72.40,509.91 73.40,509.91 74.40,509.91 75.40,509.90 76.40,509.90 77.40,509.90 78.40,509.89 79.40,509.89 80.40,509.88 81.40,509.88 82.40,509.88 83.40,509.87 84.40,509.87 85.40,509.86 86.40,509.86 87.40,509.85 88.40,509.85 89.40,509.84 90.40,509.83 91.40,509.83 92.40,509.82 93.40,509.81 94.40,509.80 95.40,509.79 96.40,509.78 97.40,509.77 98.40,509.76 99.40,509.75 100.40,509.74 101.40,509.72 102.40,509.71 103.40,509.69 104.40,509.67 105.40,509.65 106.40,509.63 107.40,509.61 108.40,509.58 109.40,509.55 110.40,509.51 111.40,509.47 112.40,509.42 113.40,509.36 114.40,509.27 115.40,509.17 116.40,509.03 117.40,508.85 118.40,508.61 119.40,508.30 120.40,507.89 121.40,507.37 122.40,506.71 123.40,505.90 124.40,504.91 125.40,503.72 126.40,502.35 127.40,500.78 128.40,499.04 129.40,497.16 130.40,495.18 131.40,493.19 132.40,491.25 133.40,489.46 134.40,487.91 135.40,486.69 136.40,485.91 137.40,485.60 138.40,485.79 139.40,486.42 140.40,487.45 141.40,488.82 142.40,490.45 143.40,492.24 144.40,494.13 145.40,496.03 146.40,497.88 147.40,499.63 148.40,501.24 149.40,502.69 150.40,503.96 151.40,505.05 152.40,505.98 153.40,506.74 154.40,507.37 155.40,507.87 156.40,508.26 157.40,508.57 158.40,508.81 159.40,508.99 160.40,509.13 161.40,509.24 162.40,509.33 163.40,509.39 164.40,509.45 165.40,509.49 166.40,509.53 167.40,509.56 168.40,509.59 169.40,509.61 170.40,509.64 171.40,509.66 172.40,509.67 173.40,509.69 174.40,509.71 175.40,509.72 176.40,509.74 177.40,509.75 178.40,509.76 179.40,509.77 180.40,509.78 181.40,509.79 182.40,509.80 183.40,509.81 184.40,509.81 185.40,509.82 186.40,509.83 187.40,509.84 188.40,509.84 189.40,509.85 190.40,509.85 191.40,509.86 192.40,509.86 193.40,509.87 194.40,509.87 195.40,509.88 196.40,509.88 197.40,509.88 198.40,509.89 199.40,509.89 200.40,509.90 201.40,509.90 202.40,509.90 203.40,509.90 204.40,509.91 205.40,509.91 206.40,509.91 207.40,509.91 208.40,509.92 209.40,509.92" fill="none" stroke="#5aa6dc" stroke-width="0.9" stroke-linejoin="round" />
<polyline points="44.40,509.97 45.40,509.97 46.40,509.97 47.40,509.97 48.40,509.96 49.40,509.96 50.40,509.96 51.40,509.96 52.40,509.96 53.40,509.96 54.40,509.96 55.40,509.96 56.40,509.96 57.40,509.96 58.40,509.96 59.40,509.95 60.40,509.95 61.40,509.95 62.40,509.95 63.40,509.95 64.40,509.95 65.40,509.95 66.40,509.94 67.40,509.94 68.40,509.94 69.40,509.94 70.40,509.94 71.40,509.94 72.40,509.93 73.40,509.93 74.40,509.93 75.40,509.93 76.40,509.93 77.40,509.92 78.40,509.92 79.40,509.92 80.40,509.92 81.40,509.91 82.40,509.91 83.40,509.91 84.40,509.90 85.40,509.90 86.40,509.89 87.40,509.89 88.40,509.89 89.40,509.88 90.40,509.88 91.40,509.87 92.40,509.87 93.40,509.86 94.40,509.85 95.40,509.85 96.40,509.84 97.40,509.83 98.40,509.82 99.40,509.81 100.40,509.81 101.40,509.79 102.40,509.78 103.40,509.77 104.40,509.76 105.40,509.74 106.40,509.73 107.40,509.71 108.40,509.69 109.40,509.67 110.40,509.64 111.40,509.61 112.40,509.57 113.40,509.52 114.40,509.46 115.40,509.39 116.40,509.28 117.40,509.15 118.40,508.97 119.40,508.74 120.40,508.44 121.40,508.06 122.40,507.58 123.40,506.97 124.40,506.24 125.40,505.37 126.40,504.35 127.40,503.20 128.40,501.91 129.40,500.52 130.40,499.07 131.40,497.60 132.40,496.17 133.40,494.84 134.40,493.70 135.40,492.81 136.40,492.23 137.40,492.00 138.40,492.14 139.40,492.60 140.40,493.37 141.40,494.38 142.40,495.58 143.40,496.90 144.40,498.29 145.40,499.69 146.40,501.06 147.40,502.35 148.40,503.53 149.40,504.60 150.40,505.54 151.40,506.35 152.40,507.03 153.40,507.60 154.40,508.06 155.40,508.43 156.40,508.72 157.40,508.94 158.40,509.12 159.40,509.26 160.40,509.36 161.40,509.44 162.40,509.50 163.40,509.55 164.40,509.59 165.40,509.63 166.40,509.65 167.40,509.68 168.40,509.70 169.40,509.72 170.40,509.73 171.40,509.75 172.40,509.76 173.40,509.77 174.40,509.78 175.40,509.79 176.40,509.80 177.40,509.81 178.40,509.82 179.40,509.83 180.40,509.84 181.40,509.84 182.40,509.85 183.40,509.86 184.40,509.86 185.40,509.87 186.40,509.87 187.40,509.88 188.40,509.88 189.40,509.89 190.40,509.89 191.40,509.90 192.40,509.90 193.40,509.90 194.40,509.91 195.40,509.91 196.40,509.91 197.40,509.91 198.40,509.92 199.40,509.92 200.40,509.92 201.40,509.93 202.40,509.93 203.40,509.93 204.40,509.93 205.40,509.93 206.40,509.94 207.40,509.94 208.40,509.94 209.40,509.94" fill="none" stroke="#79bde6" stroke-width="0.9" stroke-linejoin="round" />
<polyline points="44.40,509.98 45.40,509.98 46.40,509.97 47.40,509.97 48.40,509.97 49.40,509.97 50.40,509.97 51.40,509.97 52.40,509.97 53.40,509.97 54.40,509.97 55.40,509.97 56.40,509.97 57.40,509.97 58.40,509.97 59.40,509.97 60.40,509.97 61.40,509.96 62.40,509.96 63.40,509.96 64.40,509.96 65.40,509.96 66.40,509.96 67.40,509.96 68.40,509.96 69.40,509.96 70.40,509.95 71.40,509.95 72.40,509.95 73.40,509.95 74.40,509.95 75.40,509.95 76.40,509.95 77.40,509.94 78.40,509.94 79.40,509.94 80.40,509.94 81.40,509.94 82.40,509.93 83.40,509.93 84.40,509.93 85.40,509.92 86.40,509.92 87.40,509.92 88.40,509.92 89.40,509.91 90.40,509.91 91.40,509.90 92.40,509.90 93.40,509.90 94.40,509.89 95.40,509.89 96.40,509.88 97.40,509.88 98.40,509.87 99.40,509.86 100.40,509.86 101.40,509.85 102.40,509.84 103.40,509.83 104.40,509.82 105.40,509.81 106.40,509.80 107.40,509.79 108.40,509.77 109.40,509.75 110.40,509.74 111.40,509.71 112.40,509.68 113.40,509.65 114.40,509.60 115.40,509.55 116.40,509.47 117.40,509.37 118.40,509.24 119.40,509.07 120.40,508.85 121.40,508.57 122.40,508.21 123.40,507.76 124.40,507.22 125.40,506.58 126.40,505.83 127.40,504.97 128.40,504.02 129.40,503.00 130.40,501.92 131.40,500.84 132.40,499.78 133.40,498.80 134.40,497.96 135.40,497.30 136.40,496.87 137.40,496.70 138.40,496.80 139.40,497.15 140.40,497.71 141.40,498.46 142.40,499.34 143.40,500.32 144.40,501.35 145.40,502.38 146.40,503.39 147.40,504.34 148.40,505.22 149.40,506.01 150.40,506.71 151.40,507.30 152.40,507.81 153.40,508.23 154.40,508.57 155.40,508.84 156.40,509.05 157.40,509.22 158.40,509.35 159.40,509.45 160.40,509.53 161.40,509.59 162.40,509.63 163.40,509.67 164.40,509.70 165.40,509.72 166.40,509.74 167.40,509.76 168.40,509.78 169.40,509.79 170.40,509.80 171.40,509.81 172.40,509.82 173.40,509.83 174.40,509.84 175.40,509.85 176.40,509.86 177.40,509.86 178.40,509.87 179.40,509.87 180.40,509.88 181.40,509.89 182.40,509.89 183.40,509.89 184.40,509.90 185.40,509.90 186.40,509.91 187.40,509.91 188.40,509.91 189.40,509.92 190.40,509.92 191.40,509.92 192.40,509.93 193.40,509.93 194.40,509.93 195.40,509.93 196.40,509.94 197.40,509.94 198.40,509.94 199.40,509.94 200.40,509.94 201.40,509.94 202.40,509.95 203.40,509.95 204.40,509.95 205.40,509.95 206.40,509.95 207.40,509.95 208.40,509.95 209.40,509.96" fill="none" stroke="#8fc6ea" stroke-width="0.9" stroke-linejoin="round" />
<polyline points="44.40,509.98 45.40,509.98 46.40,509.98 47.40,509.98 48.40,509.98 49.40,509.98 50.40,509.98 51.40,509.98 52.40,509.98 53.40,509.98 54.40,509.98 55.40,509.98 56.40,509.98 57.40,509.98 58.40,509.98 59.40,509.98 60.40,509.97 61.40,509.97 62.40,509.97 63.40,509.97 64.40,509.97 65.40,509.97 66.40,509.97 67.40,509.97 68.40,509.97 69.40,509.97 70.40,509.97 71.40,509.97 72.40,509.96 73.40,509.96 74.40,509.96 75.40,509.96 76.40,509.96 77.40,509.96 78.40,509.96 79.40,509.96 80.40,509.95 81.40,509.95 82.40,509.95 83.40,509.95 84.40,509.95 85.40,509.94 86.40,509.94 87.40,509.94 88.40,509.94 89.40,509.94 90.40,509.93 91.40,509.93 92.40,509.93 93.40,509.92 94.40,509.92 95.40,509.92 96.40,509.91 97.40,509.91 98.40,509.90 99.40,509.90 100.40,509.89 101.40,509.89 102.40,509.88 103.40,509.88 104.40,509.87 105.40,509.86 106.40,509.85 107.40,509.84 108.40,509.83 109.40,509.82 110.40,509.80 111.40,509.79 112.40,509.77 113.40,509.74 114.40,509.71 115.40,509.67 116.40,509.61 117.40,509.54 118.40,509.44 119.40,509.32 120.40,509.15 121.40,508.94 122.40,508.68 123.40,508.35 124.40,507.95 125.40,507.48 126.40,506.93 127.40,506.30 128.40,505.60 129.40,504.84 130.40,504.05 131.40,503.25 132.40,502.47 133.40,501.75 134.40,501.13 135.40,500.64 136.40,500.32 137.40,500.20 138.40,500.28 139.40,500.53 140.40,500.94 141.40,501.49 142.40,502.15 143.40,502.87 144.40,503.63 145.40,504.39 146.40,505.13 147.40,505.83 148.40,506.48 149.40,507.06 150.40,507.57 151.40,508.01 152.40,508.39 153.40,508.69 154.40,508.94 155.40,509.14 156.40,509.30 157.40,509.43 158.40,509.52 159.40,509.59 160.40,509.65 161.40,509.70 162.40,509.73 163.40,509.76 164.40,509.78 165.40,509.80 166.40,509.81 167.40,509.82 168.40,509.84 169.40,509.85 170.40,509.85 171.40,509.86 172.40,509.87 173.40,509.88 174.40,509.88 175.40,509.89 176.40,509.89 177.40,509.90 178.40,509.90 179.40,509.91 180.40,509.91 181.40,509.92 182.40,509.92 183.40,509.92 184.40,509.93 185.40,509.93 186.40,509.93 187.40,509.93 188.40,509.94 189.40,509.94 190.40,509.94 191.40,509.94 192.40,509.95 193.40,509.95 194.40,509.95 195.40,509.95 196.40,509.95 197.40,509.95 198.40,509.96 199.40,509.96 200.40,509.96 201.40,509.96 202.40,509.96 203.40,509.96 204.40,509.96 205.40,509.96 206.40,509.96 207.40,509.97 208.40,509.97 209.40,509.97" fill="none" stroke="#a88fd6" stroke-width="0.9" stroke-linejoin="round" />
<polyline points="44.40,509.99 45.40,509.99 46.40,509.99 47.40,509.99 48.40,509.99 49.40,509.99 50.40,509.99 51.40,509.98 52.40,509.98 53.40,509.98 54.40,509.98 55.40,509.98 56.40,509.98 57.40,509.98 58.40,509.98 59.40,509.98 60.40,509.98 61.40,509.98 62.40,509.98 63.40,509.98 64.40,509.98 65.40,509.98 66.40,509.98 67.40,509.98 68.40,509.98 69.40,509.98 70.40,509.98 71.40,509.97 72.40,509.97 73.40,509.97 74.40,509.97 75.40,509.97 76.40,509.97 77.40,509.97 78.40,509.97 79.40,509.97 80.40,509.97 81.40,509.96 82.40,509.96 83.40,509.96 84.40,509.96 85.40,509.96 86.40,509.96 87.40,509.96 88.40,509.95 89.40,509.95 90.40,509.95 91.40,509.95 92.40,509.95 93.40,509.94 94.40,509.94 95.40,509.94 96.40,509.94 97.40,509.93 98.40,509.93 99.40,509.93 100.40,509.92 101.40,509.92 102.40,509.91 103.40,509.91 104.40,509.90 105.40,509.90 106.40,509.89 107.40,509.88 108.40,509.88 109.40,509.87 110.40,509.86 111.40,509.84 112.40,509.83 113.40,509.81 114.40,509.79 115.40,509.75 116.40,509.71 117.40,509.66 118.40,509.59 119.40,509.50 120.40,509.38 121.40,509.22 122.40,509.03 123.40,508.79 124.40,508.50 125.40,508.15 126.40,507.74 127.40,507.28 128.40,506.76 129.40,506.21 130.40,505.63 131.40,505.04 132.40,504.47 133.40,503.94 134.40,503.48 135.40,503.12 136.40,502.89 137.40,502.80 138.40,502.86 139.40,503.04 140.40,503.35 141.40,503.75 142.40,504.23 143.40,504.76 144.40,505.32 145.40,505.88 146.40,506.42 147.40,506.94 148.40,507.41 149.40,507.84 150.40,508.22 151.40,508.54 152.40,508.81 153.40,509.04 154.40,509.22 155.40,509.37 156.40,509.49 157.40,509.58 158.40,509.65 159.40,509.70 160.40,509.74 161.40,509.78 162.40,509.80 163.40,509.82 164.40,509.84 165.40,509.85 166.40,509.86 167.40,509.87 168.40,509.88 169.40,509.89 170.40,509.89 171.40,509.90 172.40,509.90 173.40,509.91 174.40,509.91 175.40,509.92 176.40,509.92 177.40,509.93 178.40,509.93 179.40,509.93 180.40,509.94 181.40,509.94 182.40,509.94 183.40,509.94 184.40,509.95 185.40,509.95 186.40,509.95 187.40,509.95 188.40,509.95 189.40,509.96 190.40,509.96 191.40,509.96 192.40,509.96 193.40,509.96 194.40,509.96 195.40,509.96 196.40,509.96 197.40,509.97 198.40,509.97 199.40,509.97 200.40,509.97 201.40,509.97 202.40,509.97 203.40,509.97 204.40,509.97 205.40,509.97 206.40,509.97 207.40,509.97 208.40,509.98 209.40,509.98" fill="none" stroke="#9a7cd0" stroke-width="0.9" stroke-linejoin="round" />
<polyline points="44.40,509.99 45.40,509.99 46.40,509.99 47.40,509.99 48.40,509.99 49.40,509.99 50.40,509.99 51.40,509.99 52.40,509.99 53.40,509.99 54.40,509.99 55.40,509.99 56.40,509.99 57.40,509.99 58.40,509.99 59.40,509.99 60.40,509.99 61.40,509.99 62.40,509.99 63.40,509.99 64.40,509.98 65.40,509.98 66.40,509.98 67.40,509.98 68.40,509.98 69.40,509.98 70.40,509.98 71.40,509.98 72.40,509.98 73.40,509.98 74.40,509.98 75.40,509.98 76.40,509.98 77.40,509.98 78.40,509.98 79.40,509.98 80.40,509.97 81.40,509.97 82.40,509.97 83.40,509.97 84.40,509.97 85.40,509.97 86.40,509.97 87.40,509.97 88.40,509.97 89.40,509.97 90.40,509.96 91.40,509.96 92.40,509.96 93.40,509.96 94.40,509.96 95.40,509.95 96.40,509.95 97.40,509.95 98.40,509.95 99.40,509.95 100.40,509.94 101.40,509.94 102.40,509.94 103.40,509.93 104.40,509.93 105.40,509.92 106.40,509.92 107.40,509.91 108.40,509.91 109.40,509.90 110.40,509.89 111.40,509.89 112.40,509.87 113.40,509.86 114.40,509.84 115.40,509.82 116.40,509.79 117.40,509.75 118.40,509.70 119.40,509.63 120.40,509.54 121.40,509.43 122.40,509.29 123.40,509.11 124.40,508.89 125.40,508.64 126.40,508.34 127.40,508.00 128.40,507.62 129.40,507.21 130.40,506.78 131.40,506.35 132.40,505.93 133.40,505.54 134.40,505.20 135.40,504.94 136.40,504.77 137.40,504.70 138.40,504.74 139.40,504.88 140.40,505.10 141.40,505.40 142.40,505.75 143.40,506.14 144.40,506.55 145.40,506.96 146.40,507.37 147.40,507.75 148.40,508.10 149.40,508.41 150.40,508.69 151.40,508.93 152.40,509.13 153.40,509.29 154.40,509.43 155.40,509.54 156.40,509.62 157.40,509.69 158.40,509.74 159.40,509.78 160.40,509.81 161.40,509.84 162.40,509.85 163.40,509.87 164.40,509.88 165.40,509.89 166.40,509.90 167.40,509.90 168.40,509.91 169.40,509.92 170.40,509.92 171.40,509.93 172.40,509.93 173.40,509.93 174.40,509.94 175.40,509.94 176.40,509.94 177.40,509.95 178.40,509.95 179.40,509.95 180.40,509.95 181.40,509.95 182.40,509.96 183.40,509.96 184.40,509.96 185.40,509.96 186.40,509.96 187.40,509.96 188.40,509.97 189.40,509.97 190.40,509.97 191.40,509.97 192.40,509.97 193.40,509.97 194.40,509.97 195.40,509.97 196.40,509.97 197.40,509.97 198.40,509.98 199.40,509.98 200.40,509.98 201.40,509.98 202.40,509.98 203.40,509.98 204.40,509.98 205.40,509.98 206.40,509.98 207.40,509.98 208.40,509.98 209.40,509.98" fill="none" stroke="#b8a0e0" stroke-width="0.9" stroke-linejoin="round" />
<polyline points="44.40,509.99 45.40,509.99 46.40,509.99 47.40,509.99 48.40,509.99 49.40,509.99 50.40,509.99 51.40,509.99 52.40,509.99 53.40,509.99 54.40,509.99 55.40,509.99 56.40,509.99 57.40,509.99 58.40,509.99 59.40,509.99 60.40,509.99 61.40,509.99 62.40,509.99 63.40,509.99 64.40,509.99 65.40,509.99 66.40,509.99 67.40,509.99 68.40,509.99 69.40,509.99 70.40,509.99 71.40,509.99 72.40,509.99 73.40,509.99 74.40,509.99 75.40,509.98 76.40,509.98 77.40,509.98 78.40,509.98 79.40,509.98 80.40,509.98 81.40,509.98 82.40,509.98 83.40,509.98 84.40,509.98 85.40,509.98 86.40,509.98 87.40,509.98 88.40,509.98 89.40,509.97 90.40,509.97 91.40,509.97 92.40,509.97 93.40,509.97 94.40,509.97 95.40,509.97 96.40,509.97 97.40,509.96 98.40,509.96 99.40,509.96 100.40,509.96 101.40,509.96 102.40,509.95 103.40,509.95 104.40,509.95 105.40,509.95 106.40,509.94 107.40,509.94 108.40,509.93 109.40,509.93 110.40,509.92 111.40,509.92 112.40,509.91 113.40,509.90 114.40,509.89 115.40,509.87 116.40,509.85 117.40,509.82 118.40,509.78 119.40,509.73 120.40,509.67 121.40,509.59 122.40,509.49 123.40,509.36 124.40,509.21 125.40,509.02 126.40,508.81 127.40,508.56 128.40,508.29 129.40,508.00 130.40,507.69 131.40,507.38 132.40,507.08 133.40,506.80 134.40,506.56 135.40,506.37 136.40,506.25 137.40,506.20 138.40,506.23 139.40,506.33 140.40,506.49 141.40,506.70 142.40,506.96 143.40,507.23 144.40,507.53 145.40,507.82 146.40,508.11 147.40,508.38 148.40,508.64 149.40,508.86 150.40,509.06 151.40,509.23 152.40,509.37 153.40,509.49 154.40,509.59 155.40,509.67 156.40,509.73 157.40,509.78 158.40,509.81 159.40,509.84 160.40,509.86 161.40,509.88 162.40,509.90 163.40,509.91 164.40,509.91 165.40,509.92 166.40,509.93 167.40,509.93 168.40,509.94 169.40,509.94 170.40,509.94 171.40,509.95 172.40,509.95 173.40,509.95 174.40,509.95 175.40,509.96 176.40,509.96 177.40,509.96 178.40,509.96 179.40,509.96 180.40,509.97 181.40,509.97 182.40,509.97 183.40,509.97 184.40,509.97 185.40,509.97 186.40,509.97 187.40,509.97 188.40,509.98 189.40,509.98 190.40,509.98 191.40,509.98 192.40,509.98 193.40,509.98 194.40,509.98 195.40,509.98 196.40,509.98 197.40,509.98 198.40,509.98 199.40,509.98 200.40,509.98 201.40,509.98 202.40,509.98 203.40,509.99 204.40,509.99 205.40,509.99 206.40,509.99 207.40,509.99 208.40,509.99 209.40,509.99" fill="none" stroke="#6cb6e4" stroke-width="0.9" stroke-linejoin="round" />
<polyline points="44.40,510.00 45.40,510.00 46.40,509.99 47.40,509.99 48.40,509.99 49.40,509.99 50.40,509.99 51.40,509.99 52.40,509.99 53.40,509.99 54.40,509.99 55.40,509.99 56.40,509.99 57.40,509.99 58.40,509.99 59.40,509.99 60.40,509.99 61.40,509.99 62.40,509.99 63.40,509.99 64.40,509.99 65.40,509.99 66.40,509.99 67.40,509.99 68.40,509.99 69.40,509.99 70.40,509.99 71.40,509.99 72.40,509.99 73.40,509.99 74.40,509.99 75.40,509.99 76.40,509.99 77.40,509.99 78.40,509.99 79.40,509.99 80.40,509.99 81.40,509.99 82.40,509.99 83.40,509.99 84.40,509.99 85.40,509.98 86.40,509.98 87.40,509.98 88.40,509.98 89.40,509.98 90.40,509.98 91.40,509.98 92.40,509.98 93.40,509.98 94.40,509.98 95.40,509.98 96.40,509.98 97.40,509.97 98.40,509.97 99.40,509.97 100.40,509.97 101.40,509.97 102.40,509.97 103.40,509.97 104.40,509.96 105.40,509.96 106.40,509.96 107.40,509.96 108.40,509.95 109.40,509.95 110.40,509.95 111.40,509.94 112.40,509.94 113.40,509.93 114.40,509.92 115.40,509.91 116.40,509.89 117.40,509.87 118.40,509.85 119.40,509.81 120.40,509.77 121.40,509.71 122.40,509.64 123.40,509.55 124.40,509.44 125.40,509.31 126.40,509.15 127.40,508.98 128.40,508.79 129.40,508.58 130.40,508.36 131.40,508.14 132.40,507.93 133.40,507.73 134.40,507.56 135.40,507.42 136.40,507.33 137.40,507.30 138.40,507.32 139.40,507.39 140.40,507.51 141.40,507.66 142.40,507.84 143.40,508.04 144.40,508.24 145.40,508.45 146.40,508.66 147.40,508.85 148.40,509.03 149.40,509.19 150.40,509.33 151.40,509.45 152.40,509.56 153.40,509.64 154.40,509.71 155.40,509.76 156.40,509.81 157.40,509.84 158.40,509.87 159.40,509.89 160.40,509.90 161.40,509.92 162.40,509.93 163.40,509.93 164.40,509.94 165.40,509.94 166.40,509.95 167.40,509.95 168.40,509.95 169.40,509.96 170.40,509.96 171.40,509.96 172.40,509.96 173.40,509.97 174.40,509.97 175.40,509.97 176.40,509.97 177.40,509.97 178.40,509.97 179.40,509.97 180.40,509.98 181.40,509.98 182.40,509.98 183.40,509.98 184.40,509.98 185.40,509.98 186.40,509.98 187.40,509.98 188.40,509.98 189.40,509.98 190.40,509.98 191.40,509.98 192.40,509.98 193.40,509.99 194.40,509.99 195.40,509.99 196.40,509.99 197.40,509.99 198.40,509.99 199.40,509.99 200.40,509.99 201.40,509.99 202.40,509.99 203.40,509.99 204.40,509.99 205.40,509.99 206.40,509.99 207.40,509.99 208.40,509.99 209.40,509.99" fill="none" stroke="#9ecff0" stroke-width="0.9" stroke-linejoin="round" />
<polyline points="44.40,510.00 45.40,510.00 46.40,510.00 47.40,510.00 48.40,510.00 49.40,510.00 50.40,510.00 51.40,510.00 52.40,510.00 53.40,510.00 54.40,510.00 55.40,510.00 56.40,510.00 57.40,510.00 58.40,510.00 59.40,510.00 60.40,510.00 61.40,509.99 62.40,509.99 63.40,509.99 64.40,509.99 65.40,509.99 66.40,509.99 67.40,509.99 68.40,509.99 69.40,509.99 70.40,509.99 71.40,509.99 72.40,509.99 73.40,509.99 74.40,509.99 75.40,509.99 76.40,509.99 77.40,509.99 78.40,509.99 79.40,509.99 80.40,509.99 81.40,509.99 82.40,509.99 83.40,509.99 84.40,509.99 85.40,509.99 86.40,509.99 87.40,509.99 88.40,509.99 89.40,509.99 90.40,509.99 91.40,509.99 92.40,509.99 93.40,509.99 94.40,509.98 95.40,509.98 96.40,509.98 97.40,509.98 98.40,509.98 99.40,509.98 100.40,509.98 101.40,509.98 102.40,509.98 103.40,509.98 104.40,509.97 105.40,509.97 106.40,509.97 107.40,509.97 108.40,509.97 109.40,509.96 110.40,509.96 111.40,509.96 112.40,509.95 113.40,509.95 114.40,509.94 115.40,509.94 116.40,509.92 117.40,509.91 118.40,509.89 119.40,509.87 120.40,509.84 121.40,509.80 122.40,509.74 123.40,509.68 124.40,509.60 125.40,509.51 126.40,509.40 127.40,509.28 128.40,509.15 129.40,509.00 130.40,508.85 131.40,508.69 132.40,508.54 133.40,508.40 134.40,508.28 135.40,508.19 136.40,508.12 137.40,508.10 138.40,508.11 139.40,508.16 140.40,508.24 141.40,508.35 142.40,508.48 143.40,508.62 144.40,508.76 145.40,508.91 146.40,509.06 147.40,509.19 148.40,509.32 149.40,509.43 150.40,509.53 151.40,509.61 152.40,509.69 153.40,509.75 154.40,509.80 155.40,509.83 156.40,509.86 157.40,509.89 158.40,509.91 159.40,509.92 160.40,509.93 161.40,509.94 162.40,509.95 163.40,509.95 164.40,509.96 165.40,509.96 166.40,509.96 167.40,509.97 168.40,509.97 169.40,509.97 170.40,509.97 171.40,509.97 172.40,509.97 173.40,509.98 174.40,509.98 175.40,509.98 176.40,509.98 177.40,509.98 178.40,509.98 179.40,509.98 180.40,509.98 181.40,509.98 182.40,509.98 183.40,509.98 184.40,509.99 185.40,509.99 186.40,509.99 187.40,509.99 188.40,509.99 189.40,509.99 190.40,509.99 191.40,509.99 192.40,509.99 193.40,509.99 194.40,509.99 195.40,509.99 196.40,509.99 197.40,509.99 198.40,509.99 199.40,509.99 200.40,509.99 201.40,509.99 202.40,509.99 203.40,509.99 204.40,509.99 205.40,509.99 206.40,509.99 207.40,509.99 208.40,509.99 209.40,509.99" fill="none" stroke="#8e70cc" stroke-width="0.9" stroke-linejoin="round" />
<polyline points="44.40,510.00 45.40,510.00 46.40,510.00 47.40,510.00 48.40,510.00 49.40,510.00 50.40,510.00 51.40,510.00 52.40,510.00 53.40,510.00 54.40,510.00 55.40,510.00 56.40,510.00 57.40,510.00 58.40,510.00 59.40,510.00 60.40,510.00 61.40,510.00 62.40,510.00 63.40,510.00 64.40,510.00 65.40,510.00 66.40,510.00 67.40,510.00 68.40,510.00 69.40,510.00 70.40,510.00 71.40,510.00 72.40,510.00 73.40,510.00 74.40,509.99 75.40,509.99 76.40,509.99 77.40,509.99 78.40,509.99 79.40,509.99 80.40,509.99 81.40,509.99 82.40,509.99 83.40,509.99 84.40,509.99 85.40,509.99 86.40,509.99 87.40,509.99 88.40,509.99 89.40,509.99 90.40,509.99 91.40,509.99 92.40,509.99 93.40,509.99 94.40,509.99 95.40,509.99 96.40,509.99 97.40,509.99 98.40,509.99 99.40,509.99 100.40,509.99 101.40,509.99 102.40,509.98 103.40,509.98 104.40,509.98 105.40,509.98 106.40,509.98 107.40,509.98 108.40,509.98 109.40,509.98 110.40,509.97 111.40,509.97 112.40,509.97 113.40,509.97 114.40,509.96 115.40,509.96 116.40,509.95 117.40,509.94 118.40,509.93 119.40,509.91 120.40,509.89 121.40,509.86 122.40,509.82 123.40,509.78 124.40,509.73 125.40,509.67 126.40,509.59 127.40,509.51 128.40,509.42 129.40,509.32 130.40,509.21 131.40,509.10 132.40,509.00 133.40,508.91 134.40,508.82 135.40,508.76 136.40,508.72 137.40,508.70 138.40,508.71 139.40,508.74 140.40,508.80 141.40,508.87 142.40,508.96 143.40,509.05 144.40,509.15 145.40,509.26 146.40,509.35 147.40,509.45 148.40,509.53 149.40,509.61 150.40,509.68 151.40,509.74 152.40,509.79 153.40,509.83 154.40,509.86 155.40,509.89 156.40,509.91 157.40,509.92 158.40,509.94 159.40,509.95 160.40,509.95 161.40,509.96 162.40,509.96 163.40,509.97 164.40,509.97 165.40,509.97 166.40,509.97 167.40,509.98 168.40,509.98 169.40,509.98 170.40,509.98 171.40,509.98 172.40,509.98 173.40,509.98 174.40,509.98 175.40,509.99 176.40,509.99 177.40,509.99 178.40,509.99 179.40,509.99 180.40,509.99 181.40,509.99 182.40,509.99 183.40,509.99 184.40,509.99 185.40,509.99 186.40,509.99 187.40,509.99 188.40,509.99 189.40,509.99 190.40,509.99 191.40,509.99 192.40,509.99 193.40,509.99 194.40,509.99 195.40,509.99 196.40,509.99 197.40,509.99 198.40,509.99 199.40,509.99 200.40,509.99 201.40,509.99 202.40,509.99 203.40,509.99 204.40,510.00 205.40,510.00 206.40,510.00 207.40,510.00 208.40,510.00 209.40,510.00" fill="none" stroke="#b6a6e6" stroke-width="0.9" stroke-linejoin="round" />
<polyline points="44.40,510.00 45.40,510.00 46.40,510.00 47.40,510.00 48.40,510.00 49.40,510.00 50.40,510.00 51.40,510.00 52.40,510.00 53.40,510.00 54.40,510.00 55.40,510.00 56.40,510.00 57.40,510.00 58.40,510.00 59.40,510.00 60.40,510.00 61.40,510.00 62.40,510.00 63.40,510.00 64.40,510.00 65.40,510.00 66.40,510.00 67.40,510.00 68.40,510.00 69.40,510.00 70.40,510.00 71.40,510.00 72.40,510.00 73.40,510.00 74.40,510.00 75.40,510.00 76.40,510.00 77.40,510.00 78.40,510.00 79.40,510.00 80.40,510.00 81.40,510.00 82.40,510.00 83.40,510.00 84.40,510.00 85.40,510.00 86.40,510.00 87.40,510.00 88.40,509.99 89.40,509.99 90.40,509.99 91.40,509.99 92.40,509.99 93.40,509.99 94.40,509.99 95.40,509.99 96.40,509.99 97.40,509.99 98.40,509.99 99.40,509.99 100.40,509.99 101.40,509.99 102.40,509.99 103.40,509.99 104.40,509.99 105.40,509.99 106.40,509.99 107.40,509.99 108.40,509.99 109.40,509.99 110.40,509.98 111.40,509.98 112.40,509.98 113.40,509.98 114.40,509.98 115.40,509.97 116.40,509.97 117.40,509.96 118.40,509.95 119.40,509.94 120.40,509.93 121.40,509.91 122.40,509.89 123.40,509.87 124.40,509.83 125.40,509.79 126.40,509.75 127.40,509.70 128.40,509.64 129.40,509.58 130.40,509.51 131.40,509.45 132.40,509.39 133.40,509.33 134.40,509.28 135.40,509.24 136.40,509.21 137.40,509.20 138.40,509.21 139.40,509.23 140.40,509.26 141.40,509.31 142.40,509.36 143.40,509.42 144.40,509.48 145.40,509.54 146.40,509.60 147.40,509.66 148.40,509.71 149.40,509.76 150.40,509.80 151.40,509.84 152.40,509.87 153.40,509.89 154.40,509.91 155.40,509.93 156.40,509.94 157.40,509.95 158.40,509.96 159.40,509.97 160.40,509.97 161.40,509.98 162.40,509.98 163.40,509.98 164.40,509.98 165.40,509.98 166.40,509.98 167.40,509.99 168.40,509.99 169.40,509.99 170.40,509.99 171.40,509.99 172.40,509.99 173.40,509.99 174.40,509.99 175.40,509.99 176.40,509.99 177.40,509.99 178.40,509.99 179.40,509.99 180.40,509.99 181.40,509.99 182.40,509.99 183.40,509.99 184.40,509.99 185.40,509.99 186.40,509.99 187.40,509.99 188.40,509.99 189.40,510.00 190.40,510.00 191.40,510.00 192.40,510.00 193.40,510.00 194.40,510.00 195.40,510.00 196.40,510.00 197.40,510.00 198.40,510.00 199.40,510.00 200.40,510.00 201.40,510.00 202.40,510.00 203.40,510.00 204.40,510.00 205.40,510.00 206.40,510.00 207.40,510.00 208.40,510.00 209.40,510.00" fill="none" stroke="#8aa8e0" stroke-width="0.9" stroke-linejoin="round" />
<line x1="44.40" y1="510.30" x2="208.90" y2="510.30" stroke="#6aaedc" stroke-width="1.2" />
<path d="M91,499 L91,393" stroke="#1a1a1a" stroke-width="1.3" fill="none" stroke-dasharray="4.2,1.8,1,1.8"/>
<path d="M91,511 L91,503.4 L94,503.4" stroke="#1a1a1a" stroke-width="1.2" fill="none"/>
<path d="M91,384.3 L87.9,395 L91,392 L94.1,395 Z" fill="#111"/>
<path d="M91.6,399.8 L137,399.8" stroke="#3a3a3a" stroke-width="1" fill="none" stroke-dasharray="3.4,1.8,1,1.8"/>
<path d="M95.5,503.4 L116.5,503.4" stroke="#3a3a3a" stroke-width="1" fill="none" stroke-dasharray="1,1.8,3.4,1.8"/>
<text x="96.40" y="408.60" font-size="9.3" text-anchor="start" font-weight="normal" fill="#151515" >6 V</text>
<text x="95.50" y="500.80" font-size="9.3" text-anchor="start" font-weight="normal" fill="#151515" >1.6 V</text>
<text x="176.30" y="399.20" font-size="9.3" text-anchor="middle" font-weight="normal" fill="#151515" >776 nm</text>
<text x="66.60" y="448.30" font-size="9.3" text-anchor="middle" font-weight="normal" fill="#151515" >Voltage</text>
<defs>
<linearGradient id="pinkg" x1="0" y1="0" x2="0" y2="1">
<stop offset="0" stop-color="#ee8a8e"/><stop offset="1" stop-color="#fbd4d6"/></linearGradient>
<linearGradient id="blueg" x1="0" y1="0" x2="0" y2="1">
<stop offset="0" stop-color="#4aa2de"/><stop offset="1" stop-color="#dbe9f4"/></linearGradient>
</defs>
<rect x="256.26" y="472.30" width="14.28" height="39.90" fill="url(#pinkg)" stroke="#7a6a6a" stroke-width="0.7"/>
<rect x="276.66" y="392.50" width="14.28" height="119.70" fill="url(#pinkg)" stroke="#7a6a6a" stroke-width="0.7"/>
<rect x="297.06" y="432.40" width="14.28" height="79.80" fill="url(#pinkg)" stroke="#7a6a6a" stroke-width="0.7"/>
<rect x="317.46" y="472.30" width="14.28" height="39.90" fill="url(#pinkg)" stroke="#7a6a6a" stroke-width="0.7"/>
<line x1="253.20" y1="378.70" x2="253.20" y2="512.20" stroke="#9a9a9a" stroke-width="0.9" />
<line x1="253.20" y1="512.20" x2="334.80" y2="512.20" stroke="#6a6a6a" stroke-width="1" />
<line x1="251.00" y1="512.20" x2="253.20" y2="512.20" stroke="#6a6a6a" stroke-width="0.9" />
<text x="248.60" y="515.50" font-size="9.2" text-anchor="end" font-weight="normal" fill="#151515" >0</text>
<line x1="251.00" y1="485.60" x2="253.20" y2="485.60" stroke="#6a6a6a" stroke-width="0.9" />
<text x="248.60" y="488.90" font-size="9.2" text-anchor="end" font-weight="normal" fill="#151515" >2</text>
<line x1="251.00" y1="459.00" x2="253.20" y2="459.00" stroke="#6a6a6a" stroke-width="0.9" />
<text x="248.60" y="462.30" font-size="9.2" text-anchor="end" font-weight="normal" fill="#151515" >4</text>
<line x1="251.00" y1="432.40" x2="253.20" y2="432.40" stroke="#6a6a6a" stroke-width="0.9" />
<text x="248.60" y="435.70" font-size="9.2" text-anchor="end" font-weight="normal" fill="#151515" >6</text>
<line x1="251.00" y1="405.80" x2="253.20" y2="405.80" stroke="#6a6a6a" stroke-width="0.9" />
<text x="248.60" y="409.10" font-size="9.2" text-anchor="end" font-weight="normal" fill="#151515" >8</text>
<line x1="251.00" y1="379.20" x2="253.20" y2="379.20" stroke="#6a6a6a" stroke-width="0.9" />
<text x="248.60" y="382.50" font-size="9.2" text-anchor="end" font-weight="normal" fill="#151515" >10</text>
<line x1="252.00" y1="498.90" x2="253.20" y2="498.90" stroke="#9a9a9a" stroke-width="0.7" />
<line x1="252.00" y1="472.30" x2="253.20" y2="472.30" stroke="#9a9a9a" stroke-width="0.7" />
<line x1="252.00" y1="445.70" x2="253.20" y2="445.70" stroke="#9a9a9a" stroke-width="0.7" />
<line x1="252.00" y1="419.10" x2="253.20" y2="419.10" stroke="#9a9a9a" stroke-width="0.7" />
<line x1="252.00" y1="392.50" x2="253.20" y2="392.50" stroke="#9a9a9a" stroke-width="0.7" />
<text x="253.20" y="526.30" font-size="9.2" text-anchor="middle" font-weight="normal" fill="#151515" >19</text>
<text x="273.60" y="526.30" font-size="9.2" text-anchor="middle" font-weight="normal" fill="#151515" >20</text>
<text x="294.00" y="526.30" font-size="9.2" text-anchor="middle" font-weight="normal" fill="#151515" >21</text>
<text x="314.40" y="526.30" font-size="9.2" text-anchor="middle" font-weight="normal" fill="#151515" >22</text>
<text x="334.80" y="526.30" font-size="9.2" text-anchor="middle" font-weight="normal" fill="#151515" >23</text>
<line x1="263.40" y1="512.20" x2="263.40" y2="514.00" stroke="#6a6a6a" stroke-width="0.8" />
<line x1="283.80" y1="512.20" x2="283.80" y2="514.00" stroke="#6a6a6a" stroke-width="0.8" />
<line x1="304.20" y1="512.20" x2="304.20" y2="514.00" stroke="#6a6a6a" stroke-width="0.8" />
<line x1="324.60" y1="512.20" x2="324.60" y2="514.00" stroke="#6a6a6a" stroke-width="0.8" />
<text x="294.40" y="542.50" font-size="9.2" text-anchor="middle" font-weight="normal" fill="#151515" >EQE (%)</text>
<text transform="translate(234.9,446.6) rotate(-90)" font-size="9.2" text-anchor="middle" fill="#151515">Count</text>
<rect x="377.82" y="445.70" width="14.11" height="66.50" fill="url(#blueg)" stroke="none" stroke-width="0.7"/>
<rect x="398.37" y="392.50" width="14.11" height="119.70" fill="url(#blueg)" stroke="none" stroke-width="0.7"/>
<rect x="418.92" y="472.30" width="14.51" height="39.90" fill="url(#blueg)" stroke="none" stroke-width="0.7"/>
<rect x="439.07" y="472.30" width="14.91" height="39.90" fill="url(#blueg)" stroke="none" stroke-width="0.7"/>
<line x1="375.40" y1="378.70" x2="375.40" y2="512.20" stroke="#9a9a9a" stroke-width="0.9" />
<line x1="375.40" y1="512.20" x2="456.00" y2="512.20" stroke="#6a6a6a" stroke-width="1" />
<line x1="373.20" y1="512.20" x2="375.40" y2="512.20" stroke="#6a6a6a" stroke-width="0.9" />
<text x="370.80" y="515.50" font-size="9.2" text-anchor="end" font-weight="normal" fill="#151515" >0</text>
<line x1="373.20" y1="485.60" x2="375.40" y2="485.60" stroke="#6a6a6a" stroke-width="0.9" />
<text x="370.80" y="488.90" font-size="9.2" text-anchor="end" font-weight="normal" fill="#151515" >2</text>
<line x1="373.20" y1="459.00" x2="375.40" y2="459.00" stroke="#6a6a6a" stroke-width="0.9" />
<text x="370.80" y="462.30" font-size="9.2" text-anchor="end" font-weight="normal" fill="#151515" >4</text>
<line x1="373.20" y1="432.40" x2="375.40" y2="432.40" stroke="#6a6a6a" stroke-width="0.9" />
<text x="370.80" y="435.70" font-size="9.2" text-anchor="end" font-weight="normal" fill="#151515" >6</text>
<line x1="373.20" y1="405.80" x2="375.40" y2="405.80" stroke="#6a6a6a" stroke-width="0.9" />
<text x="370.80" y="409.10" font-size="9.2" text-anchor="end" font-weight="normal" fill="#151515" >8</text>
<line x1="373.20" y1="379.20" x2="375.40" y2="379.20" stroke="#6a6a6a" stroke-width="0.9" />
<text x="370.80" y="382.50" font-size="9.2" text-anchor="end" font-weight="normal" fill="#151515" >10</text>
<line x1="374.20" y1="498.90" x2="375.40" y2="498.90" stroke="#9a9a9a" stroke-width="0.7" />
<line x1="374.20" y1="472.30" x2="375.40" y2="472.30" stroke="#9a9a9a" stroke-width="0.7" />
<line x1="374.20" y1="445.70" x2="375.40" y2="445.70" stroke="#9a9a9a" stroke-width="0.7" />
<line x1="374.20" y1="419.10" x2="375.40" y2="419.10" stroke="#9a9a9a" stroke-width="0.7" />
<line x1="374.20" y1="392.50" x2="375.40" y2="392.50" stroke="#9a9a9a" stroke-width="0.7" />
<text x="375.40" y="526.30" font-size="9.2" text-anchor="middle" font-weight="normal" fill="#151515" >22</text>
<line x1="375.40" y1="512.20" x2="375.40" y2="514.50" stroke="#6a6a6a" stroke-width="0.9" />
<text x="415.70" y="526.30" font-size="9.2" text-anchor="middle" font-weight="normal" fill="#151515" >23</text>
<line x1="415.70" y1="512.20" x2="415.70" y2="514.50" stroke="#6a6a6a" stroke-width="0.9" />
<text x="456.00" y="526.30" font-size="9.2" text-anchor="middle" font-weight="normal" fill="#151515" >24</text>
<line x1="456.00" y1="512.20" x2="456.00" y2="514.50" stroke="#6a6a6a" stroke-width="0.9" />
<line x1="395.55" y1="512.20" x2="395.55" y2="514.00" stroke="#6a6a6a" stroke-width="0.8" />
<line x1="435.85" y1="512.20" x2="435.85" y2="514.00" stroke="#6a6a6a" stroke-width="0.8" />
<text x="416.00" y="542.50" font-size="9.2" text-anchor="middle" font-weight="normal" fill="#151515" >Radiance (W sr<tspan font-size="6.6" dy="-3.8">−1</tspan><tspan dy="3.8"> m</tspan><tspan font-size="6.6" dy="-3.8">−2</tspan><tspan dy="3.8">)</tspan></text>
<text transform="translate(356.4,446.6) rotate(-90)" font-size="9.2" text-anchor="middle" fill="#151515">Count</text>
<line x1="512.60" y1="454.80" x2="674.60" y2="454.80" stroke="#c8c8c8" stroke-width="0.9" stroke-dasharray="2.6,2.2"/>
<line x1="512.60" y1="433.36" x2="674.60" y2="433.36" stroke="#c8c8c8" stroke-width="0.9" stroke-dasharray="2.6,2.2"/>
<line x1="512.60" y1="411.92" x2="674.60" y2="411.92" stroke="#c8c8c8" stroke-width="0.9" stroke-dasharray="2.6,2.2"/>
<line x1="528.80" y1="380.00" x2="528.80" y2="510.00" stroke="#c8c8c8" stroke-width="0.9" stroke-dasharray="2.6,2.2"/>
<line x1="606.20" y1="380.00" x2="606.20" y2="510.00" stroke="#c8c8c8" stroke-width="0.9" stroke-dasharray="2.6,2.2"/>
<line x1="511.60" y1="379.00" x2="675.60" y2="379.00" stroke="#4e4e4e" stroke-width="1.1" />
<line x1="675.60" y1="379.00" x2="675.60" y2="511.00" stroke="#4e4e4e" stroke-width="1.1" />
<line x1="511.60" y1="378.40" x2="511.60" y2="511.00" stroke="#3c3c3c" stroke-width="1" />
<line x1="509.10" y1="511.00" x2="675.60" y2="511.00" stroke="#3c3c3c" stroke-width="1" />
<line x1="509.10" y1="508.40" x2="511.60" y2="508.40" stroke="#3c3c3c" stroke-width="1" />
<text x="505.40" y="511.70" font-size="9.4" text-anchor="end" font-weight="normal" fill="#151515" >0.0</text>
<line x1="509.10" y1="454.80" x2="511.60" y2="454.80" stroke="#3c3c3c" stroke-width="1" />
<text x="505.40" y="458.10" font-size="9.4" text-anchor="end" font-weight="normal" fill="#151515" >0.5</text>
<line x1="509.10" y1="401.20" x2="511.60" y2="401.20" stroke="#3c3c3c" stroke-width="1" />
<text x="505.40" y="404.50" font-size="9.4" text-anchor="end" font-weight="normal" fill="#151515" >1.0</text>
<line x1="510.10" y1="481.60" x2="511.60" y2="481.60" stroke="#3c3c3c" stroke-width="0.8" />
<line x1="510.10" y1="428.00" x2="511.60" y2="428.00" stroke="#3c3c3c" stroke-width="0.8" />
<line x1="511.60" y1="511.00" x2="511.60" y2="513.50" stroke="#3c3c3c" stroke-width="1" />
<text x="511.60" y="525.60" font-size="9.8" text-anchor="middle" font-weight="normal" fill="#151515" letter-spacing="-0.3">0</text>
<line x1="528.80" y1="511.00" x2="528.80" y2="513.50" stroke="#3c3c3c" stroke-width="1" />
<text x="528.80" y="525.60" font-size="9.8" text-anchor="middle" font-weight="normal" fill="#151515" letter-spacing="-0.3">20</text>
<line x1="546.00" y1="511.00" x2="546.00" y2="513.50" stroke="#3c3c3c" stroke-width="1" />
<text x="546.00" y="525.60" font-size="9.8" text-anchor="middle" font-weight="normal" fill="#151515" letter-spacing="-0.3">40</text>
<line x1="563.20" y1="511.00" x2="563.20" y2="513.50" stroke="#3c3c3c" stroke-width="1" />
<text x="563.20" y="525.60" font-size="9.8" text-anchor="middle" font-weight="normal" fill="#151515" letter-spacing="-0.3">60</text>
<line x1="580.40" y1="511.00" x2="580.40" y2="513.50" stroke="#3c3c3c" stroke-width="1" />
<text x="580.40" y="525.60" font-size="9.8" text-anchor="middle" font-weight="normal" fill="#151515" letter-spacing="-0.3">80</text>
<line x1="597.60" y1="511.00" x2="597.60" y2="513.50" stroke="#3c3c3c" stroke-width="1" />
<text x="597.60" y="525.60" font-size="9.8" text-anchor="middle" font-weight="normal" fill="#151515" letter-spacing="-0.3">100</text>
<line x1="614.80" y1="511.00" x2="614.80" y2="513.50" stroke="#3c3c3c" stroke-width="1" />
<text x="614.80" y="525.60" font-size="9.8" text-anchor="middle" font-weight="normal" fill="#151515" letter-spacing="-0.3">120</text>
<line x1="632.00" y1="511.00" x2="632.00" y2="513.50" stroke="#3c3c3c" stroke-width="1" />
<text x="632.00" y="525.60" font-size="9.8" text-anchor="middle" font-weight="normal" fill="#151515" letter-spacing="-0.3">140</text>
<line x1="649.20" y1="511.00" x2="649.20" y2="513.50" stroke="#3c3c3c" stroke-width="1" />
<text x="649.20" y="525.60" font-size="9.8" text-anchor="middle" font-weight="normal" fill="#151515" letter-spacing="-0.3">160</text>
<line x1="666.40" y1="511.00" x2="666.40" y2="513.50" stroke="#3c3c3c" stroke-width="1" />
<text x="666.40" y="525.60" font-size="9.8" text-anchor="middle" font-weight="normal" fill="#151515" letter-spacing="-0.3">180</text>
<line x1="520.20" y1="511.00" x2="520.20" y2="512.50" stroke="#3c3c3c" stroke-width="0.8" />
<line x1="537.40" y1="511.00" x2="537.40" y2="512.50" stroke="#3c3c3c" stroke-width="0.8" />
<line x1="554.60" y1="511.00" x2="554.60" y2="512.50" stroke="#3c3c3c" stroke-width="0.8" />
<line x1="571.80" y1="511.00" x2="571.80" y2="512.50" stroke="#3c3c3c" stroke-width="0.8" />
<line x1="589.00" y1="511.00" x2="589.00" y2="512.50" stroke="#3c3c3c" stroke-width="0.8" />
<line x1="606.20" y1="511.00" x2="606.20" y2="512.50" stroke="#3c3c3c" stroke-width="0.8" />
<line x1="623.40" y1="511.00" x2="623.40" y2="512.50" stroke="#3c3c3c" stroke-width="0.8" />
<line x1="640.60" y1="511.00" x2="640.60" y2="512.50" stroke="#3c3c3c" stroke-width="0.8" />
<line x1="657.80" y1="511.00" x2="657.80" y2="512.50" stroke="#3c3c3c" stroke-width="0.8" />
<text x="594.00" y="540.40" font-size="8.6" text-anchor="middle" font-weight="normal" fill="#151515" >Time (min)</text>
<text transform="translate(477.8,446) rotate(-90)" font-size="9" text-anchor="middle" fill="#151515"><tspan font-style="italic">L</tspan>/<tspan font-style="italic">L</tspan><tspan font-size="6.6" dy="2">0</tspan><tspan dy="-2"> (%)</tspan></text>
<circle cx="511.60" cy="401.20" r="2.1" fill="#9f6fd3" stroke="none" stroke-width="0"/>
<circle cx="515.90" cy="402.26" r="2.1" fill="#9f6fd3" stroke="none" stroke-width="0"/>
<circle cx="520.20" cy="402.82" r="2.1" fill="#9f6fd3" stroke="none" stroke-width="0"/>
<circle cx="524.50" cy="403.48" r="2.1" fill="#9f6fd3" stroke="none" stroke-width="0"/>
<circle cx="528.80" cy="404.24" r="2.1" fill="#9f6fd3" stroke="none" stroke-width="0"/>
<circle cx="533.10" cy="405.13" r="2.1" fill="#9f6fd3" stroke="none" stroke-width="0"/>
<circle cx="537.40" cy="406.16" r="2.1" fill="#9f6fd3" stroke="none" stroke-width="0"/>
<circle cx="541.70" cy="407.35" r="2.1" fill="#9f6fd3" stroke="none" stroke-width="0"/>
<circle cx="546.00" cy="408.72" r="2.1" fill="#9f6fd3" stroke="none" stroke-width="0"/>
<circle cx="550.30" cy="410.29" r="2.1" fill="#9f6fd3" stroke="none" stroke-width="0"/>
<circle cx="554.60" cy="412.09" r="2.1" fill="#9f6fd3" stroke="none" stroke-width="0"/>
<circle cx="558.90" cy="414.13" r="2.1" fill="#9f6fd3" stroke="none" stroke-width="0"/>
<circle cx="563.20" cy="416.43" r="2.1" fill="#9f6fd3" stroke="none" stroke-width="0"/>
<circle cx="567.50" cy="419.00" r="2.1" fill="#9f6fd3" stroke="none" stroke-width="0"/>
<circle cx="571.80" cy="421.87" r="2.1" fill="#9f6fd3" stroke="none" stroke-width="0"/>
<circle cx="576.10" cy="425.02" r="2.1" fill="#9f6fd3" stroke="none" stroke-width="0"/>
<circle cx="580.40" cy="428.46" r="2.1" fill="#9f6fd3" stroke="none" stroke-width="0"/>
<circle cx="584.70" cy="432.18" r="2.1" fill="#9f6fd3" stroke="none" stroke-width="0"/>
<circle cx="589.00" cy="436.15" r="2.1" fill="#9f6fd3" stroke="none" stroke-width="0"/>
<circle cx="593.30" cy="440.34" r="2.1" fill="#9f6fd3" stroke="none" stroke-width="0"/>
<circle cx="597.60" cy="444.70" r="2.1" fill="#9f6fd3" stroke="none" stroke-width="0"/>
<circle cx="601.90" cy="449.18" r="2.1" fill="#9f6fd3" stroke="none" stroke-width="0"/>
<circle cx="606.20" cy="453.73" r="2.1" fill="#9f6fd3" stroke="none" stroke-width="0"/>
<circle cx="610.50" cy="458.27" r="2.1" fill="#9f6fd3" stroke="none" stroke-width="0"/>
<circle cx="614.80" cy="462.76" r="2.1" fill="#9f6fd3" stroke="none" stroke-width="0"/>
<circle cx="619.10" cy="467.12" r="2.1" fill="#9f6fd3" stroke="none" stroke-width="0"/>
<circle cx="623.40" cy="471.31" r="2.1" fill="#9f6fd3" stroke="none" stroke-width="0"/>
<circle cx="627.70" cy="475.28" r="2.1" fill="#9f6fd3" stroke="none" stroke-width="0"/>
<circle cx="632.00" cy="478.99" r="2.1" fill="#9f6fd3" stroke="none" stroke-width="0"/>
<circle cx="636.30" cy="482.44" r="2.1" fill="#9f6fd3" stroke="none" stroke-width="0"/>
<circle cx="640.60" cy="485.59" r="2.1" fill="#9f6fd3" stroke="none" stroke-width="0"/>
<circle cx="644.90" cy="488.45" r="2.1" fill="#9f6fd3" stroke="none" stroke-width="0"/>
<circle cx="649.20" cy="491.03" r="2.1" fill="#9f6fd3" stroke="none" stroke-width="0"/>
<circle cx="653.50" cy="493.33" r="2.1" fill="#9f6fd3" stroke="none" stroke-width="0"/>
<circle cx="657.80" cy="495.37" r="2.1" fill="#9f6fd3" stroke="none" stroke-width="0"/>
<circle cx="662.10" cy="497.16" r="2.1" fill="#9f6fd3" stroke="none" stroke-width="0"/>
<circle cx="511.60" cy="401.20" r="1.7" fill="none" stroke="#1f5f8b" stroke-width="1.1"/>
<circle cx="515.90" cy="422.64" r="1.7" fill="none" stroke="#1f5f8b" stroke-width="1.1"/>
<circle cx="520.20" cy="430.79" r="1.7" fill="none" stroke="#1f5f8b" stroke-width="1.1"/>
<circle cx="524.50" cy="442.15" r="1.7" fill="none" stroke="#1f5f8b" stroke-width="1.1"/>
<circle cx="528.80" cy="452.12" r="1.7" fill="none" stroke="#1f5f8b" stroke-width="1.1"/>
<circle cx="533.10" cy="461.45" r="1.7" fill="none" stroke="#1f5f8b" stroke-width="1.1"/>
<circle cx="537.40" cy="468.09" r="1.7" fill="none" stroke="#1f5f8b" stroke-width="1.1"/>
<circle cx="541.70" cy="477.63" r="1.7" fill="none" stroke="#1f5f8b" stroke-width="1.1"/>
<circle cx="546.00" cy="486.00" r="1.7" fill="none" stroke="#1f5f8b" stroke-width="1.1"/>
<circle cx="550.30" cy="495.00" r="1.7" fill="none" stroke="#1f5f8b" stroke-width="1.1"/>
<circle cx="554.60" cy="497.47" r="1.7" fill="none" stroke="#1f5f8b" stroke-width="1.1"/>
<circle cx="558.90" cy="500.04" r="1.7" fill="none" stroke="#1f5f8b" stroke-width="1.1"/>
<circle cx="563.20" cy="501.97" r="1.7" fill="none" stroke="#1f5f8b" stroke-width="1.1"/>
<circle cx="567.50" cy="503.36" r="1.7" fill="none" stroke="#1f5f8b" stroke-width="1.1"/>
<circle cx="571.80" cy="504.97" r="1.7" fill="none" stroke="#1f5f8b" stroke-width="1.1"/>
<circle cx="576.10" cy="505.40" r="1.7" fill="none" stroke="#1f5f8b" stroke-width="1.1"/>
<circle cx="580.40" cy="506.04" r="1.7" fill="none" stroke="#1f5f8b" stroke-width="1.1"/>
<circle cx="584.70" cy="506.68" r="1.7" fill="none" stroke="#1f5f8b" stroke-width="1.1"/>
<circle cx="589.00" cy="507.11" r="1.7" fill="none" stroke="#1f5f8b" stroke-width="1.1"/>
<circle cx="593.30" cy="507.54" r="1.7" fill="none" stroke="#1f5f8b" stroke-width="1.1"/>
<circle cx="597.60" cy="507.76" r="1.7" fill="none" stroke="#1f5f8b" stroke-width="1.1"/>
<circle cx="601.90" cy="507.86" r="1.7" fill="none" stroke="#1f5f8b" stroke-width="1.1"/>
<circle cx="619.60" cy="389.00" r="2.1" fill="#9f6fd3" stroke="none" stroke-width="0"/>
<text x="624.80" y="391.80" font-size="7.9" text-anchor="start" font-weight="normal" fill="#151515" letter-spacing="-0.2">Target</text>
<circle cx="619.60" cy="399.60" r="1.7" fill="none" stroke="#1f5f8b" stroke-width="1.1"/>
<text x="624.80" y="402.40" font-size="7.9" text-anchor="start" font-weight="normal" fill="#151515" letter-spacing="-0.2">Control</text>
<text x="618.00" y="425.80" font-size="7.7" text-anchor="start" font-weight="normal" fill="#151515" letter-spacing="-0.2">@1 W sr<tspan font-size="5.6" dy="-3">-1</tspan><tspan dy="3"> m</tspan><tspan font-size="5.6" dy="-3">-2</tspan></text>
</svg></body></html>
